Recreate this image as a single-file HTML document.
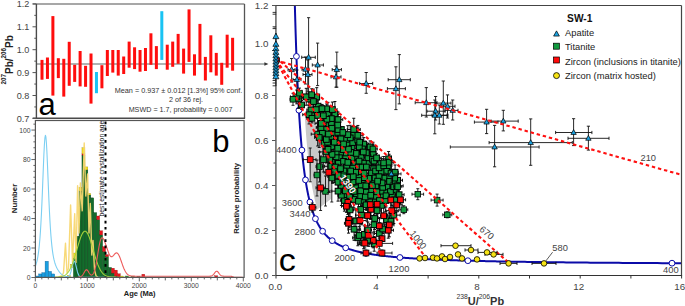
<!DOCTYPE html>
<html><head><meta charset="utf-8"><style>
html,body{margin:0;padding:0;background:#fff;width:685px;height:306px;overflow:hidden}
svg{display:block}
text{font-family:"Liberation Sans",sans-serif}
</style></head><body>
<svg width="685" height="306" viewBox="0 0 685 306">
<rect width="685" height="306" fill="#fff"/>
<line x1="36.4" y1="64.0" x2="266" y2="64.0" stroke="#959a9a" stroke-width="1.6"/>
<path d="M264.4,62.2 L268.4,64.0 L264.4,65.8 Z" fill="#333"/>
<rect x="40.5" y="59.9" width="3" height="19.8" fill="#ff0d0d"/>
<rect x="45.95" y="57.5" width="3" height="21.4" fill="#ff0d0d"/>
<rect x="51.39" y="16.1" width="3" height="79.5" fill="#ff0d0d"/>
<rect x="56.84" y="58.2" width="3" height="19.9" fill="#ff0d0d"/>
<rect x="62.28" y="58.8" width="3" height="37.8" fill="#ff0d0d"/>
<rect x="67.73" y="41.8" width="3" height="44" fill="#ff0d0d"/>
<rect x="73.18" y="64.8" width="3" height="17.1" fill="#ff0d0d"/>
<rect x="78.62" y="51" width="3" height="35.4" fill="#ff0d0d"/>
<rect x="84.07" y="65.8" width="3" height="21" fill="#ff0d0d"/>
<rect x="89.51" y="53.5" width="3" height="50.1" fill="#ff0d0d"/>
<rect x="94.96" y="72" width="3" height="21.2" fill="#19c3f3"/>
<rect x="100.41" y="65.2" width="3" height="23.1" fill="#ff0d0d"/>
<rect x="105.85" y="50" width="3" height="26" fill="#ff0d0d"/>
<rect x="111.3" y="50" width="3" height="22.6" fill="#ff0d0d"/>
<rect x="116.74" y="50" width="3" height="25.6" fill="#ff0d0d"/>
<rect x="122.19" y="56.5" width="3" height="17.5" fill="#ff0d0d"/>
<rect x="127.64" y="41.6" width="3" height="26.1" fill="#ff0d0d"/>
<rect x="133.08" y="47.3" width="3" height="21.8" fill="#ff0d0d"/>
<rect x="138.53" y="50" width="3" height="21.7" fill="#ff0d0d"/>
<rect x="143.97" y="48" width="3" height="23" fill="#ff0d0d"/>
<rect x="149.42" y="33.3" width="3" height="31.5" fill="#ff0d0d"/>
<rect x="154.87" y="46.1" width="3" height="23" fill="#ff0d0d"/>
<rect x="160.31" y="11.2" width="3" height="48.7" fill="#19c3f3"/>
<rect x="165.76" y="44.7" width="3" height="25" fill="#ff0d0d"/>
<rect x="171.2" y="41.6" width="3" height="25.2" fill="#ff0d0d"/>
<rect x="176.65" y="33.9" width="3" height="29.9" fill="#ff0d0d"/>
<rect x="182.1" y="48.6" width="3" height="25" fill="#ff0d0d"/>
<rect x="187.54" y="9.4" width="3" height="52.5" fill="#ff0d0d"/>
<rect x="192.99" y="54.3" width="3" height="21.3" fill="#ff0d0d"/>
<rect x="198.43" y="23.9" width="3" height="40.9" fill="#ff0d0d"/>
<rect x="203.88" y="56.9" width="3" height="23.6" fill="#ff0d0d"/>
<rect x="209.33" y="35.3" width="3" height="37" fill="#ff0d0d"/>
<rect x="214.77" y="52.9" width="3" height="22.7" fill="#ff0d0d"/>
<rect x="220.22" y="62.8" width="3" height="22" fill="#ff0d0d"/>
<rect x="225.66" y="34.7" width="3" height="33" fill="#ff0d0d"/>
<rect x="231.11" y="37.8" width="3" height="32.9" fill="#ff0d0d"/>
<line x1="32.7" y1="4.0" x2="244.5" y2="4.0" stroke="#8a8a8a" stroke-width="1.5"/>
<line x1="36.4" y1="4.0" x2="36.4" y2="118.2" stroke="#4a4a4a" stroke-width="1.4"/>
<line x1="244.5" y1="4.0" x2="244.5" y2="118.2" stroke="#555" stroke-width="1.3"/>
<line x1="32.7" y1="118.2" x2="245.1" y2="118.2" stroke="#4a4a4a" stroke-width="1.4"/>
<line x1="32.5" y1="3.9" x2="36.4" y2="3.9" stroke="#555" stroke-width="1" />
<text x="29.3" y="7.15" font-size="9.1" text-anchor="end" font-weight="normal" fill="#444" >1.2</text>
<line x1="32.5" y1="26.8" x2="36.4" y2="26.8" stroke="#555" stroke-width="1" />
<text x="29.3" y="30.05" font-size="9.1" text-anchor="end" font-weight="normal" fill="#444" >1.1</text>
<line x1="32.5" y1="49.7" x2="36.4" y2="49.7" stroke="#555" stroke-width="1" />
<text x="29.3" y="52.95" font-size="9.1" text-anchor="end" font-weight="normal" fill="#444" >1.0</text>
<line x1="32.5" y1="72.6" x2="36.4" y2="72.6" stroke="#555" stroke-width="1" />
<text x="29.3" y="75.85" font-size="9.1" text-anchor="end" font-weight="normal" fill="#444" >0.9</text>
<line x1="32.5" y1="95.5" x2="36.4" y2="95.5" stroke="#555" stroke-width="1" />
<text x="29.3" y="98.75" font-size="9.1" text-anchor="end" font-weight="normal" fill="#444" >0.8</text>
<line x1="32.5" y1="118.4" x2="36.4" y2="118.4" stroke="#555" stroke-width="1" />
<text x="29.3" y="121.65" font-size="9.1" text-anchor="end" font-weight="normal" fill="#444" >0.7</text>
<line x1="34.3" y1="15.35" x2="36.4" y2="15.35" stroke="#555" stroke-width="1" />
<line x1="34.3" y1="38.25" x2="36.4" y2="38.25" stroke="#555" stroke-width="1" />
<line x1="34.3" y1="61.15" x2="36.4" y2="61.15" stroke="#555" stroke-width="1" />
<line x1="34.3" y1="84.05" x2="36.4" y2="84.05" stroke="#555" stroke-width="1" />
<line x1="34.3" y1="106.95" x2="36.4" y2="106.95" stroke="#555" stroke-width="1" />
<text transform="translate(12.9,59.8) rotate(-90)" text-anchor="middle" font-size="10" font-weight="bold" fill="#222"><tspan font-size="6.3" dy="-6.5">207</tspan><tspan dy="6.5">Pb/</tspan><tspan font-size="6.3" dy="-6.5">206</tspan><tspan dy="6.5">Pb</tspan></text>
<text x="242.3" y="92.8" font-size="7.25" text-anchor="end" font-weight="normal" fill="#333" >Mean = 0.937 ± 0.012 [1.3%] 95% conf.</text>
<text x="186" y="102" font-size="7.2" text-anchor="middle" font-weight="normal" fill="#333" >2 of 36 rej.</text>
<text x="232.5" y="111.6" font-size="7.2" text-anchor="end" font-weight="normal" fill="#333" >MSWD = 1.7, probability = 0.007</text>
<text x="38.6" y="114.6" font-size="31" text-anchor="start" font-weight="normal" fill="#000" >a</text>
<rect x="35.5" y="276.03" width="3.2" height="1.47" fill="#1a9fe0" stroke="#0b5f9a" stroke-width="0.4"/>
<rect x="38.7" y="273.96" width="3.2" height="3.54" fill="#1a9fe0" stroke="#0b5f9a" stroke-width="0.4"/>
<rect x="41.9" y="272.78" width="3.2" height="4.72" fill="#1a9fe0" stroke="#0b5f9a" stroke-width="0.4"/>
<rect x="45.1" y="261.28" width="3.2" height="16.22" fill="#1a9fe0" stroke="#0b5f9a" stroke-width="0.4"/>
<rect x="48.3" y="271.45" width="3.2" height="6.05" fill="#1a9fe0" stroke="#0b5f9a" stroke-width="0.4"/>
<rect x="51.5" y="273.96" width="3.2" height="3.54" fill="#1a9fe0" stroke="#0b5f9a" stroke-width="0.4"/>
<rect x="67.4" y="275.29" width="2.95" height="2.21" fill="#f4e21a" stroke="#8a7a10" stroke-width="0.3"/>
<rect x="70.45" y="264.23" width="2.95" height="3.39" fill="#f4e21a" stroke="#8a7a10" stroke-width="0.3"/>
<rect x="73.4" y="258.33" width="2.95" height="19.17" fill="#146c2c" stroke="#0a3f18" stroke-width="0.35"/>
<rect x="73.4" y="253.02" width="2.95" height="5.31" fill="#f4e21a" stroke="#8a7a10" stroke-width="0.3"/>
<rect x="76.05" y="236.21" width="2.95" height="41.29" fill="#146c2c" stroke="#0a3f18" stroke-width="0.35"/>
<rect x="79" y="190.95" width="2.95" height="86.55" fill="#146c2c" stroke="#0a3f18" stroke-width="0.35"/>
<rect x="79" y="187.41" width="2.95" height="3.54" fill="#f4e21a" stroke="#8a7a10" stroke-width="0.3"/>
<rect x="81.95" y="155.12" width="2.95" height="122.38" fill="#146c2c" stroke="#0a3f18" stroke-width="0.35"/>
<rect x="81.95" y="153.64" width="2.95" height="1.47" fill="#e8141c" stroke="#8a0a0a" stroke-width="0.3"/>
<rect x="81.95" y="147.74" width="2.95" height="5.9" fill="#f4e21a" stroke="#8a7a10" stroke-width="0.3"/>
<rect x="84.9" y="169.86" width="2.95" height="107.64" fill="#146c2c" stroke="#0a3f18" stroke-width="0.35"/>
<rect x="84.9" y="166.91" width="2.95" height="2.95" fill="#f4e21a" stroke="#8a7a10" stroke-width="0.3"/>
<rect x="87.85" y="194.93" width="2.95" height="82.57" fill="#146c2c" stroke="#0a3f18" stroke-width="0.35"/>
<rect x="87.85" y="193.45" width="2.95" height="1.47" fill="#f4e21a" stroke="#8a7a10" stroke-width="0.3"/>
<rect x="90.8" y="197.88" width="2.95" height="79.62" fill="#146c2c" stroke="#0a3f18" stroke-width="0.35"/>
<rect x="93.75" y="212.62" width="2.95" height="64.88" fill="#146c2c" stroke="#0a3f18" stroke-width="0.35"/>
<rect x="96.7" y="219.7" width="2.95" height="57.8" fill="#146c2c" stroke="#0a3f18" stroke-width="0.35"/>
<rect x="96.7" y="216.01" width="2.95" height="3.69" fill="#e8141c" stroke="#8a0a0a" stroke-width="0.3"/>
<rect x="99.65" y="234.89" width="2.95" height="42.61" fill="#146c2c" stroke="#0a3f18" stroke-width="0.35"/>
<rect x="99.65" y="230.76" width="2.95" height="4.13" fill="#e8141c" stroke="#8a0a0a" stroke-width="0.3"/>
<rect x="102.6" y="251.55" width="2.95" height="25.95" fill="#146c2c" stroke="#0a3f18" stroke-width="0.35"/>
<rect x="102.6" y="246.68" width="2.95" height="4.87" fill="#e8141c" stroke="#8a0a0a" stroke-width="0.3"/>
<rect x="105.55" y="256.56" width="2.95" height="20.94" fill="#146c2c" stroke="#0a3f18" stroke-width="0.35"/>
<rect x="105.55" y="254.65" width="2.95" height="1.92" fill="#e8141c" stroke="#8a0a0a" stroke-width="0.3"/>
<rect x="108.5" y="267.47" width="2.95" height="10.03" fill="#146c2c" stroke="#0a3f18" stroke-width="0.35"/>
<rect x="111.45" y="273.08" width="2.95" height="4.42" fill="#146c2c" stroke="#0a3f18" stroke-width="0.35"/>
<rect x="111.45" y="268.21" width="2.95" height="4.87" fill="#e8141c" stroke="#8a0a0a" stroke-width="0.3"/>
<rect x="114.4" y="276.03" width="2.95" height="1.47" fill="#146c2c" stroke="#0a3f18" stroke-width="0.35"/>
<rect x="114.4" y="270.13" width="2.95" height="5.9" fill="#e8141c" stroke="#8a0a0a" stroke-width="0.3"/>
<rect x="117.35" y="273.81" width="2.95" height="3.69" fill="#e8141c" stroke="#8a0a0a" stroke-width="0.3"/>
<rect x="120.3" y="276.03" width="2.95" height="1.47" fill="#f4e21a" stroke="#8a7a10" stroke-width="0.3"/>
<rect x="125.4" y="276.03" width="2.95" height="1.47" fill="#146c2c" stroke="#0a3f18" stroke-width="0.35"/>
<rect x="131.2" y="276.32" width="2.95" height="1.18" fill="#146c2c" stroke="#0a3f18" stroke-width="0.35"/>
<rect x="137" y="276.32" width="2.95" height="1.18" fill="#146c2c" stroke="#0a3f18" stroke-width="0.35"/>
<rect x="141.9" y="274.26" width="2.95" height="3.24" fill="#e8141c" stroke="#8a0a0a" stroke-width="0.3"/>
<rect x="214.7" y="275.73" width="2.95" height="1.77" fill="#e8141c" stroke="#8a0a0a" stroke-width="0.3"/>
<path d="M58,277.2 L62,275.73 L63.5,272.78 L65.5,243.29 L67,272.78 L68.5,268.35 L70.6,204.95 L72.5,262.45 L74.7,213.8 L76,262.45 L77.6,185.78 L79,232.96 L80.4,182.83 L82.2,210.85 L84.2,143.02 L85.8,196.1 L87.6,173.99 L89,232.96 L90.3,203.47 L91.8,255.08 L93,240.34 L94.5,269.83 L96,275.73 L98,277.2" fill="none" stroke="#f8d770" stroke-width="1.4" stroke-opacity="0.95" stroke-linejoin="round"/>
<path d="M35.4,266.18 L35.9,264.81 L36.4,263.21 L36.9,261.33 L37.4,259.08 L37.9,256.37 L38.4,253.11 L38.9,249.16 L39.4,244.41 L39.9,238.7 L40.4,231.89 L40.9,223.82 L41.4,214.39 L41.9,203.6 L42.4,191.61 L42.9,178.84 L43.4,166.03 L43.9,154.18 L44.4,144.42 L44.9,137.85 L45.4,135.27 L45.9,136.98 L46.4,142.72 L46.9,151.75 L47.4,163 L47.9,175.35 L48.4,187.81 L48.9,199.65 L49.4,210.42 L49.9,219.93 L50.4,228.17 L50.9,235.2 L51.4,241.16 L51.9,246.16 L52.4,250.35 L52.9,253.85 L53.4,256.76 L53.9,259.19 L54.4,261.23 L54.9,262.97 L55.4,264.47 L55.9,265.77 L56.4,266.93 L56.9,267.98 L57.4,268.92 L57.9,269.79 L58.4,270.58 L58.9,271.31 L59.4,271.97 L59.9,272.58 L60.4,273.14 L60.9,273.64 L61.4,274.1 L61.9,274.5 L62.4,274.87 L62.9,275.19 L63.4,275.48 L63.9,275.73 L64.4,275.95 L64.9,276.14 L65.4,276.31 L65.9,276.44 L66.4,276.55 L66.9,276.62 L67.4,276.64 L67.9,276.58 L68.4,276.42 L68.9,276.09 L69.4,275.53 L69.9,274.68 L70.4,273.48 L70.9,271.91 L71.4,270 L71.9,267.87 L72.4,265.7 L72.9,263.72 L73.4,262.19 L73.9,261.32 L74.4,261.25 L74.9,261.98 L75.4,263.4 L75.9,265.32 L76.4,267.49 L76.9,269.66 L77.4,271.64 L77.9,273.31 L78.4,274.61 L78.9,275.57 L79.4,276.22 L79.9,276.64 L80.4,276.9 L80.9,277.04 L81.4,277.12 L81.9,277.16 L82.4,277.18 L82.9,277.19 L83.4,277.2 L83.9,277.2 L84.4,277.2 L84.9,277.2 L85.4,277.2 L85.9,277.2 L86.4,277.2 L86.9,277.2 L87.4,277.2 L87.9,277.2 L88.4,277.2 L88.9,277.2 L89.4,277.2 L89.9,277.2 L90.4,277.2 L90.9,277.2 L91.4,277.2 L91.9,277.2 L92.4,277.2 L92.9,277.2 L93.4,277.2 L93.9,277.2 L94.4,277.2 L94.9,277.2 L95.4,277.2 L95.9,277.2 L96.4,277.2 L96.9,277.2 L97.4,277.2 L97.9,277.2 L98.4,277.2 L98.9,277.2 L99.4,277.2 L99.9,277.2 L100.4,277.2 L100.9,277.2 L101.4,277.2 L101.9,277.2 L102.4,277.2 L102.9,277.2 L103.4,277.2 L103.9,277.2 L104.4,277.2 L104.9,277.2 L105.4,277.2 L105.9,277.2 L106.4,277.2 L106.9,277.2 L107.4,277.2 L107.9,277.2 L108.4,277.2 L108.9,277.2 L109.4,277.2 L109.9,277.2 L110.4,277.2 L110.9,277.2 L111.4,277.2 L111.9,277.2 L112.4,277.2 L112.9,277.2 L113.4,277.2 L113.9,277.2 L114.4,277.2 L114.9,277.2 L115.4,277.2" fill="none" stroke="#7ccff2" stroke-width="1.1" stroke-opacity="1" stroke-linejoin="round"/>
<path d="M55,277.16 L55.5,277.15 L56,277.14 L56.5,277.12 L57,277.1 L57.5,277.08 L58,277.05 L58.5,277.01 L59,276.97 L59.5,276.91 L60,276.85 L60.5,276.78 L61,276.69 L61.5,276.58 L62,276.46 L62.5,276.32 L63,276.15 L63.5,275.96 L64,275.73 L64.5,275.47 L65,275.18 L65.5,274.84 L66,274.46 L66.5,274.03 L67,273.54 L67.5,273 L68,272.39 L68.5,271.72 L69,270.97 L69.5,270.16 L70,269.27 L70.5,268.3 L71,267.25 L71.5,266.12 L72,264.92 L72.5,263.63 L73,262.27 L73.5,260.83 L74,259.33 L74.5,257.76 L75,256.14 L75.5,254.47 L76,252.77 L76.5,251.04 L77,249.3 L77.5,247.56 L78,245.83 L78.5,244.13 L79,242.48 L79.5,240.88 L80,239.36 L80.5,237.93 L81,236.61 L81.5,235.4 L82,234.32 L82.5,233.39 L83,232.62 L83.5,232 L84,231.56 L84.5,231.29 L85,231.2 L85.5,231.29 L86,231.56 L86.5,232 L87,232.62 L87.5,233.39 L88,234.32 L88.5,235.4 L89,236.61 L89.5,237.93 L90,239.36 L90.5,240.88 L91,242.48 L91.5,244.13 L92,245.83 L92.5,247.56 L93,249.3 L93.5,251.04 L94,252.77 L94.5,254.47 L95,256.14 L95.5,257.76 L96,259.33 L96.5,260.83 L97,262.27 L97.5,263.63 L98,264.92 L98.5,266.12 L99,267.25 L99.5,268.3 L100,269.27 L100.5,270.16 L101,270.97 L101.5,271.72 L102,272.39 L102.5,273 L103,273.54 L103.5,274.03 L104,274.46 L104.5,274.84 L105,275.18 L105.5,275.47 L106,275.73 L106.5,275.96 L107,276.15 L107.5,276.32 L108,276.46 L108.5,276.58 L109,276.69 L109.5,276.78 L110,276.85 L110.5,276.91 L111,276.97 L111.5,277.01 L112,277.05 L112.5,277.08 L113,277.1 L113.5,277.12 L114,277.14 L114.5,277.15 L115,277.16 L115.5,277.17 L116,277.17 L116.5,277.18 L117,277.18 L117.5,277.19 L118,277.19 L118.5,277.19 L119,277.19 L119.5,277.2 L120,277.2 L120.5,277.2 L121,277.2 L121.5,277.2 L122,277.2 L122.5,277.2 L123,277.2 L123.5,277.2 L124,277.2 L124.5,277.2 L125,277.2 L125.5,277.2 L126,277.2 L126.5,277.2 L127,277.2 L127.5,277.2 L128,277.2 L128.5,277.2 L129,277.2 L129.5,277.2 L130,277.2 L130.5,277.2 L131,277.2 L131.5,277.2 L132,277.2 L132.5,277.2 L133,277.2 L133.5,277.2 L134,277.2 L134.5,277.2 L135,277.2" fill="none" stroke="#a6d23c" stroke-width="1.1" stroke-opacity="1" stroke-linejoin="round"/>
<path d="M78,277.2 L78.5,277.11 L79,277.01 L79.5,276.91 L80,276.78 L80.5,276.63 L81,276.41 L81.5,276.13 L82,275.73 L82.5,275.21 L83,274.53 L83.5,273.72 L84,272.79 L84.5,271.9 L85,271.05 L85.5,270.34 L86,269.86 L86.5,269.7 L87,269.86 L87.5,270.33 L88,271.03 L88.5,271.87 L89,272.74 L89.5,273.54 L90,274.21 L90.5,274.71 L91,275 L91.5,275.09 L92,274.97 L92.5,274.64 L93,274.08 L93.5,273.28 L94,272.19 L94.5,270.8 L95,269.07 L95.5,267 L96,264.6 L96.5,261.9 L97,258.95 L97.5,255.85 L98,252.69 L98.5,249.59 L99,246.68 L99.5,244.07 L100,241.84 L100.5,240.08 L101,238.81 L101.5,238.03 L102,237.72 L102.5,237.83 L103,238.29 L103.5,239.04 L104,240.02 L104.5,241.17 L105,242.44 L105.5,243.82 L106,245.26 L106.5,246.74 L107,248.23 L107.5,249.72 L108,251.15 L108.5,252.49 L109,253.71 L109.5,254.76 L110,255.6 L110.5,256.22 L111,256.6 L111.5,256.74 L112,256.66 L112.5,256.38 L113,255.96 L113.5,255.42 L114,254.83 L114.5,254.24 L115,253.71 L115.5,253.28 L116,252.99 L116.5,252.88 L117,252.97 L117.5,253.28 L118,253.8 L118.5,254.53 L119,255.45 L119.5,256.54 L120,257.77 L120.5,259.1 L121,260.51 L121.5,261.96 L122,263.41 L122.5,264.84 L123,266.21 L123.5,267.52 L124,268.73 L124.5,269.85 L125,270.85 L125.5,271.75 L126,272.54 L126.5,273.21 L127,273.79 L127.5,274.28 L128,274.69 L128.5,275.02 L129,275.29 L129.5,275.51 L130,275.68 L130.5,275.81 L131,275.91 L131.5,275.99 L132,276.05 L132.5,276.09 L133,276.12 L133.5,276.15 L134,276.16 L134.5,276.17 L135,276.18 L135.5,276.19 L136,276.19 L136.5,276.19 L137,276.2 L137.5,276.2 L138,276.2 L138.5,276.2 L139,276.2 L139.5,276.2 L140,276.2 L140.5,276.2 L141,276.2 L141.5,276.2 L142,276.2 L142.5,276.2 L143,276.2 L143.5,276.2 L144,276.2 L144.5,276.2 L145,276.2 L145.5,276.2 L146,276.2 L146.5,276.2 L147,276.2 L147.5,276.2 L148,276.2 L148.5,276.2 L149,276.2 L149.5,276.2 L150,276.2 L150.5,276.2 L151,276.2 L151.5,276.2 L152,276.2 L152.5,276.2 L153,276.2 L153.5,276.2 L154,276.2 L154.5,276.2 L155,276.2 L155.5,276.2 L156,276.2 L156.5,276.2 L157,276.2 L157.5,276.2 L158,276.2 L158.5,276.2 L159,276.2 L159.5,276.2 L160,276.2 L160.5,276.2 L161,276.2 L161.5,276.2 L162,276.2 L162.5,276.2 L163,276.2 L163.5,276.2 L164,276.2 L164.5,276.2 L165,276.2 L165.5,276.2 L166,276.2 L166.5,276.2 L167,276.2 L167.5,276.2 L168,276.2 L168.5,276.2 L169,276.2 L169.5,276.2 L170,276.2 L170.5,276.2 L171,276.2 L171.5,276.2 L172,276.2 L172.5,276.2 L173,276.2 L173.5,276.2 L174,276.2 L174.5,276.2 L175,276.2 L175.5,276.2 L176,276.2 L176.5,276.2 L177,276.2 L177.5,276.2 L178,276.2 L178.5,276.2 L179,276.2 L179.5,276.2 L180,276.2 L180.5,276.2 L181,276.2 L181.5,276.2 L182,276.2 L182.5,276.2 L183,276.2 L183.5,276.2 L184,276.2 L184.5,276.2 L185,276.2 L185.5,276.2 L186,276.2 L186.5,276.2 L187,276.2 L187.5,276.2 L188,276.2 L188.5,276.2 L189,276.2 L189.5,276.2 L190,276.2 L190.5,276.2 L191,276.2 L191.5,276.2 L192,276.2 L192.5,276.2 L193,276.2 L193.5,276.2 L194,276.2 L194.5,276.2 L195,276.2 L195.5,276.2 L196,276.2 L196.5,276.2 L197,276.2 L197.5,276.2 L198,276.2 L198.5,276.2 L199,276.2 L199.5,276.2 L200,276.2 L200.5,276.2 L201,276.2 L201.5,276.2 L202,276.2 L202.5,276.2 L203,276.2 L203.5,276.2 L204,276.2 L204.5,276.2 L205,276.2 L205.5,276.2 L206,276.2 L206.5,276.2 L207,276.2 L207.5,276.2 L208,276.2 L208.5,276.2 L209,276.19 L209.5,276.18 L210,276.15 L210.5,276.11 L211,276.03 L211.5,275.89 L212,275.69 L212.5,275.39 L213,274.98 L213.5,274.46 L214,273.85 L214.5,273.17 L215,272.49 L215.5,271.89 L216,271.45 L216.5,271.22 L217,271.25 L217.5,271.52 L218,272 L218.5,272.62 L219,273.31 L219.5,273.98 L220,274.58 L220.5,275.08 L221,275.46 L221.5,275.74 L222,275.93 L222.5,276.05 L223,276.12 L223.5,276.16 L224,276.18 L224.5,276.19 L225,276.2 L225.5,276.2 L226,276.2 L226.5,276.2 L227,276.2 L227.5,276.2 L228,276.2 L228.5,276.2 L229,276.2 L229.5,276.2 L230,276.2 L230.5,276.2 L231,276.2 L231.5,276.37 L232,276.53 L232.5,276.7 L233,276.87 L233.5,277.03 L234,277.2 L234.5,277.2 L235,277.2 L235.5,277.2 L236,277.2 L236.5,277.2 L237,277.2 L237.5,277.2 L238,277.2 L238.5,277.2 L239,277.2 L239.5,277.2 L240,277.2 L240.5,277.2 L241,277.2 L241.5,277.2 L242,277.2 L242.5,277.2" fill="none" stroke="#ee5a5a" stroke-width="1.1" stroke-opacity="1" stroke-linejoin="round"/>
<line x1="105.5" y1="121.5" x2="105.5" y2="277" stroke="#000" stroke-width="2.0" stroke-dasharray="2.7,3.5"/>
<text transform="translate(103.5,216.4) rotate(-90)" font-size="6.75" fill="#111">best estimate crystallization age</text>
<rect x="35.4" y="120.5" width="208.7" height="156.9" fill="none" stroke="#555" stroke-width="1.2"/>
<line x1="31.4" y1="277.5" x2="35.4" y2="277.5" stroke="#555" stroke-width="0.9" />
<text x="30.6" y="280.3" font-size="6.8" text-anchor="end" font-weight="normal" fill="#444" >0</text>
<line x1="33.4" y1="271.6" x2="35.4" y2="271.6" stroke="#555" stroke-width="0.9" />
<line x1="33.4" y1="265.7" x2="35.4" y2="265.7" stroke="#555" stroke-width="0.9" />
<line x1="33.4" y1="259.81" x2="35.4" y2="259.81" stroke="#555" stroke-width="0.9" />
<line x1="33.4" y1="253.91" x2="35.4" y2="253.91" stroke="#555" stroke-width="0.9" />
<line x1="31.4" y1="248.01" x2="35.4" y2="248.01" stroke="#555" stroke-width="0.9" />
<text x="30.6" y="250.81" font-size="6.8" text-anchor="end" font-weight="normal" fill="#444" >20</text>
<line x1="33.4" y1="242.11" x2="35.4" y2="242.11" stroke="#555" stroke-width="0.9" />
<line x1="33.4" y1="236.21" x2="35.4" y2="236.21" stroke="#555" stroke-width="0.9" />
<line x1="33.4" y1="230.32" x2="35.4" y2="230.32" stroke="#555" stroke-width="0.9" />
<line x1="33.4" y1="224.42" x2="35.4" y2="224.42" stroke="#555" stroke-width="0.9" />
<line x1="31.4" y1="218.52" x2="35.4" y2="218.52" stroke="#555" stroke-width="0.9" />
<text x="30.6" y="221.32" font-size="6.8" text-anchor="end" font-weight="normal" fill="#444" >40</text>
<line x1="33.4" y1="212.62" x2="35.4" y2="212.62" stroke="#555" stroke-width="0.9" />
<line x1="33.4" y1="206.72" x2="35.4" y2="206.72" stroke="#555" stroke-width="0.9" />
<line x1="33.4" y1="200.83" x2="35.4" y2="200.83" stroke="#555" stroke-width="0.9" />
<line x1="33.4" y1="194.93" x2="35.4" y2="194.93" stroke="#555" stroke-width="0.9" />
<line x1="31.4" y1="189.03" x2="35.4" y2="189.03" stroke="#555" stroke-width="0.9" />
<text x="30.6" y="191.83" font-size="6.8" text-anchor="end" font-weight="normal" fill="#444" >60</text>
<line x1="33.4" y1="183.13" x2="35.4" y2="183.13" stroke="#555" stroke-width="0.9" />
<line x1="33.4" y1="177.23" x2="35.4" y2="177.23" stroke="#555" stroke-width="0.9" />
<line x1="33.4" y1="171.34" x2="35.4" y2="171.34" stroke="#555" stroke-width="0.9" />
<line x1="33.4" y1="165.44" x2="35.4" y2="165.44" stroke="#555" stroke-width="0.9" />
<line x1="31.4" y1="159.54" x2="35.4" y2="159.54" stroke="#555" stroke-width="0.9" />
<text x="30.6" y="162.34" font-size="6.8" text-anchor="end" font-weight="normal" fill="#444" >80</text>
<line x1="33.4" y1="153.64" x2="35.4" y2="153.64" stroke="#555" stroke-width="0.9" />
<line x1="33.4" y1="147.74" x2="35.4" y2="147.74" stroke="#555" stroke-width="0.9" />
<line x1="33.4" y1="141.85" x2="35.4" y2="141.85" stroke="#555" stroke-width="0.9" />
<line x1="33.4" y1="135.95" x2="35.4" y2="135.95" stroke="#555" stroke-width="0.9" />
<line x1="31.4" y1="130.05" x2="35.4" y2="130.05" stroke="#555" stroke-width="0.9" />
<text x="30.6" y="132.85" font-size="6.8" text-anchor="end" font-weight="normal" fill="#444" >100</text>
<line x1="33.4" y1="124.15" x2="35.4" y2="124.15" stroke="#555" stroke-width="0.9" />
<line x1="35.3" y1="277.4" x2="35.3" y2="281.4" stroke="#555" stroke-width="0.9" />
<line x1="41.8" y1="277.4" x2="41.8" y2="279.4" stroke="#555" stroke-width="0.9" />
<line x1="48.3" y1="277.4" x2="48.3" y2="279.4" stroke="#555" stroke-width="0.9" />
<line x1="54.8" y1="277.4" x2="54.8" y2="279.4" stroke="#555" stroke-width="0.9" />
<line x1="61.3" y1="277.4" x2="61.3" y2="280.4" stroke="#555" stroke-width="0.9" />
<line x1="67.8" y1="277.4" x2="67.8" y2="279.4" stroke="#555" stroke-width="0.9" />
<line x1="74.3" y1="277.4" x2="74.3" y2="279.4" stroke="#555" stroke-width="0.9" />
<line x1="80.8" y1="277.4" x2="80.8" y2="279.4" stroke="#555" stroke-width="0.9" />
<line x1="87.3" y1="277.4" x2="87.3" y2="281.4" stroke="#555" stroke-width="0.9" />
<line x1="93.8" y1="277.4" x2="93.8" y2="279.4" stroke="#555" stroke-width="0.9" />
<line x1="100.3" y1="277.4" x2="100.3" y2="279.4" stroke="#555" stroke-width="0.9" />
<line x1="106.8" y1="277.4" x2="106.8" y2="279.4" stroke="#555" stroke-width="0.9" />
<line x1="113.3" y1="277.4" x2="113.3" y2="280.4" stroke="#555" stroke-width="0.9" />
<line x1="119.8" y1="277.4" x2="119.8" y2="279.4" stroke="#555" stroke-width="0.9" />
<line x1="126.3" y1="277.4" x2="126.3" y2="279.4" stroke="#555" stroke-width="0.9" />
<line x1="132.8" y1="277.4" x2="132.8" y2="279.4" stroke="#555" stroke-width="0.9" />
<line x1="139.3" y1="277.4" x2="139.3" y2="281.4" stroke="#555" stroke-width="0.9" />
<line x1="145.8" y1="277.4" x2="145.8" y2="279.4" stroke="#555" stroke-width="0.9" />
<line x1="152.3" y1="277.4" x2="152.3" y2="279.4" stroke="#555" stroke-width="0.9" />
<line x1="158.8" y1="277.4" x2="158.8" y2="279.4" stroke="#555" stroke-width="0.9" />
<line x1="165.3" y1="277.4" x2="165.3" y2="280.4" stroke="#555" stroke-width="0.9" />
<line x1="171.8" y1="277.4" x2="171.8" y2="279.4" stroke="#555" stroke-width="0.9" />
<line x1="178.3" y1="277.4" x2="178.3" y2="279.4" stroke="#555" stroke-width="0.9" />
<line x1="184.8" y1="277.4" x2="184.8" y2="279.4" stroke="#555" stroke-width="0.9" />
<line x1="191.3" y1="277.4" x2="191.3" y2="281.4" stroke="#555" stroke-width="0.9" />
<line x1="197.8" y1="277.4" x2="197.8" y2="279.4" stroke="#555" stroke-width="0.9" />
<line x1="204.3" y1="277.4" x2="204.3" y2="279.4" stroke="#555" stroke-width="0.9" />
<line x1="210.8" y1="277.4" x2="210.8" y2="279.4" stroke="#555" stroke-width="0.9" />
<line x1="217.3" y1="277.4" x2="217.3" y2="280.4" stroke="#555" stroke-width="0.9" />
<line x1="223.8" y1="277.4" x2="223.8" y2="279.4" stroke="#555" stroke-width="0.9" />
<line x1="230.3" y1="277.4" x2="230.3" y2="279.4" stroke="#555" stroke-width="0.9" />
<line x1="236.8" y1="277.4" x2="236.8" y2="279.4" stroke="#555" stroke-width="0.9" />
<line x1="243.3" y1="277.4" x2="243.3" y2="281.4" stroke="#555" stroke-width="0.9" />
<text x="35.3" y="288.3" font-size="6.75" text-anchor="middle" font-weight="normal" fill="#444" >0</text>
<text x="87.3" y="288.3" font-size="6.75" text-anchor="middle" font-weight="normal" fill="#444" >1000</text>
<text x="139.3" y="288.3" font-size="6.75" text-anchor="middle" font-weight="normal" fill="#444" >2000</text>
<text x="191.3" y="288.3" font-size="6.75" text-anchor="middle" font-weight="normal" fill="#444" >3000</text>
<text x="243.3" y="288.3" font-size="6.75" text-anchor="middle" font-weight="normal" fill="#444" >4000</text>
<text x="139.6" y="296.2" font-size="7.5" text-anchor="middle" font-weight="bold" fill="#222" >Age (Ma)</text>
<text transform="translate(16.9,198.5) rotate(-90)" text-anchor="middle" font-size="7.8" font-weight="bold" fill="#222">Number</text>
<text transform="translate(239.4,198.4) rotate(-90)" text-anchor="middle" font-size="7.7" font-weight="bold" fill="#222">Relative probability</text>
<text x="212.3" y="151.5" font-size="31" text-anchor="start" font-weight="normal" fill="#000" >b</text>
<defs><clipPath id="cc"><rect x="275.7" y="5.5" width="405.8" height="270"/></clipPath></defs>
<g clip-path="url(#cc)">
<path d="M304.56,112.5 L304.7,114.76 L304.84,116.98 L304.98,119.17 L305.12,121.33 L305.26,123.46 L305.41,125.55 L305.55,127.62 L305.7,129.65 L305.85,131.65 L305.99,133.63 L306.14,135.57 L306.3,137.49 L306.45,139.38 L306.6,141.24 L306.76,143.07 L306.92,144.88 L307.07,146.66 L307.23,148.42 L307.4,150.14 L307.56,151.85 L307.72,153.53 L307.89,155.18 L308.06,156.81 L308.23,158.41 L308.4,160 L308.57,161.56 L308.75,163.09 L308.92,164.61 L309.1,166.1 L309.28,167.57 L309.46,169.02 L309.65,170.44 L309.83,171.85 L310.02,173.24 L310.21,174.6 L310.4,175.95 L310.59,177.28 L310.78,178.58 L310.98,179.87 L311.18,181.14 L311.38,182.39 L311.58,183.63 L311.79,184.84 L312,186.04 L312.21,187.22 L312.42,188.39 L312.63,189.53 L312.85,190.66 L313.07,191.78 L313.29,192.87 L313.51,193.96 L313.74,195.02 L313.97,196.07 L314.2,197.11 L314.43,198.13 L314.67,199.14 L314.91,200.13 L315.15,201.11 L315.39,202.07 L315.64,203.02 L315.89,203.96 L316.14,204.88 L316.4,205.79 L316.66,206.69 L314,212 L331,199 L331,185 L329,165 L325,145 L318,125 L308,112 Z" fill="#c9c9c9"/>
<path d="M294.32,-16.28 L294.37,-14.18 L294.42,-12.1 L294.47,-10.04 L294.52,-7.99 L294.57,-5.95 L294.62,-3.93 L294.67,-1.93 L294.72,0.06 L294.77,2.04 L294.82,4 L294.87,5.94 L294.92,7.87 L294.97,9.79 L295.02,11.69 L295.07,13.57 L295.13,15.45 L295.18,17.31 L295.23,19.15 L295.28,20.98 L295.34,22.8 L295.39,24.6 L295.44,26.39 L295.5,28.17 L295.55,29.93 L295.6,31.68 L295.66,33.42 L295.71,35.14 L295.77,36.85 L295.82,38.55 L295.88,40.23 L295.93,41.9 L295.99,43.56 L296.04,45.21 L296.1,46.85 L296.15,48.47 L296.21,50.08 L296.27,51.68 L296.32,53.26 L296.38,54.84 L296.44,56.4 L296.49,57.95 L296.55,59.49 L296.61,61.02 L296.67,62.54 L296.73,64.04 L296.78,65.53 L296.84,67.02 L296.9,68.49 L296.96,69.95 L297.02,71.4 L297.08,72.84 L297.14,74.27 L297.2,75.68 L297.26,77.09 L297.32,78.49 L297.38,79.87 L297.45,81.25 L297.51,82.61 L297.57,83.97 L297.63,85.31 L297.69,86.65 L297.76,87.97 L297.82,89.29 L297.88,90.59 L297.94,91.89 L298.01,93.18 L298.07,94.45 L298.14,95.72 L298.2,96.98 L298.27,98.22 L298.33,99.46 L298.4,100.69 L298.46,101.91 L298.53,103.13 L298.59,104.33 L298.66,105.52 L298.73,106.71 L298.79,107.88 L298.86,109.05 L298.93,110.21 L299,111.36 L299.06,112.5 L299.13,113.63 L299.2,114.76 L299.27,115.87 L299.34,116.98 L299.41,118.08 L299.48,119.17 L299.55,120.25 L299.62,121.33 L299.69,122.4 L299.76,123.46 L299.83,124.51 L299.91,125.55 L299.98,126.59 L300.05,127.62 L300.12,128.64 L300.2,129.65 L300.27,130.66 L300.35,131.65 L300.42,132.64 L300.49,133.63 L300.57,134.6 L300.64,135.57 L300.72,136.54 L300.8,137.49 L300.87,138.44 L300.95,139.38 L301.03,140.31 L301.1,141.24 L301.18,142.16 L301.26,143.07 L301.34,143.98 L301.42,144.88 L301.49,145.77 L301.57,146.66 L301.65,147.54 L301.73,148.42 L301.81,149.28 L301.9,150.14 L301.98,151 L302.06,151.85 L302.14,152.69 L302.22,153.53 L302.31,154.36 L302.39,155.18 L302.47,156 L302.56,156.81 L302.64,157.61 L302.73,158.41 L302.81,159.21 L302.9,160 L302.99,160.78 L303.07,161.56 L303.16,162.33 L303.25,163.09 L303.33,163.85 L303.42,164.61 L303.51,165.35 L303.6,166.1 L303.69,166.84 L303.78,167.57 L303.87,168.3 L303.96,169.02 L304.05,169.73 L304.15,170.44 L304.24,171.15 L304.33,171.85 L304.42,172.55 L304.52,173.24 L304.61,173.92 L304.71,174.6 L304.8,175.28 L304.9,175.95 L304.99,176.62 L305.09,177.28 L305.19,177.93 L305.28,178.58 L305.38,179.23 L305.48,179.87 L305.58,180.51 L305.68,181.14 L305.78,181.77 L305.88,182.39 L305.98,183.01 L306.08,183.63 L306.19,184.24 L306.29,184.84 L306.39,185.44 L306.5,186.04 L306.6,186.63 L306.71,187.22 L306.81,187.81 L306.92,188.39 L307.03,188.96 L307.13,189.53 L307.24,190.1 L307.35,190.66 L307.46,191.22 L307.57,191.78 L307.68,192.33 L307.79,192.87 L307.9,193.42 L308.01,193.96 L308.12,194.49 L308.24,195.02 L308.35,195.55 L308.47,196.07 L308.58,196.59 L308.7,197.11 L308.81,197.62 L308.93,198.13 L309.05,198.64 L309.17,199.14 L309.29,199.64 L309.41,200.13 L309.53,200.62 L309.65,201.11 L309.77,201.59 L309.89,202.07 L310.02,202.55 L310.14,203.02 L310.26,203.49 L310.39,203.96 L310.52,204.42 L310.64,204.88 L310.77,205.34 L310.9,205.79 L311.03,206.24 L311.16,206.69 L311.29,207.13 L311.42,207.57 L311.55,208.01 L311.68,208.44 L311.82,208.87 L311.95,209.3 L312.09,209.73 L312.22,210.15 L312.36,210.57 L312.5,210.98 L312.64,211.4 L312.78,211.81 L312.92,212.21 L313.06,212.62 L313.2,213.02 L313.34,213.42 L313.49,213.81 L313.63,214.21 L313.78,214.6 L313.92,214.98 L314.07,215.37 L314.22,215.75 L314.37,216.13 L314.52,216.5 L314.67,216.88 L314.82,217.25 L314.97,217.62 L315.13,217.98 L315.28,218.35 L315.44,218.71 L315.59,219.06 L315.75,219.42 L315.91,219.77 L316.07,220.12 L316.23,220.47 L316.39,220.82 L316.56,221.16 L316.72,221.5 L316.89,221.84 L317.05,222.17 L317.22,222.51 L317.39,222.84 L317.56,223.17 L317.73,223.49 L317.9,223.82 L318.07,224.14 L318.25,224.46 L318.42,224.77 L318.6,225.09 L318.78,225.4 L318.96,225.71 L319.14,226.02 L319.32,226.33 L319.5,226.63 L319.68,226.93 L319.87,227.23 L320.06,227.53 L320.24,227.83 L320.43,228.12 L320.62,228.41 L320.81,228.7 L321.01,228.99 L321.2,229.27 L321.4,229.56 L321.6,229.84 L321.79,230.12 L321.99,230.39 L322.2,230.67 L322.4,230.94 L322.6,231.22 L322.81,231.49 L323.02,231.75 L323.23,232.02 L323.44,232.28 L323.65,232.55 L323.86,232.81 L324.08,233.06 L324.29,233.32 L324.51,233.58 L324.73,233.83 L324.95,234.08 L325.18,234.33 L325.4,234.58 L325.63,234.83 L325.86,235.07 L326.09,235.31 L326.32,235.55 L326.55,235.79 L326.79,236.03 L327.03,236.27 L327.27,236.5 L327.51,236.74 L327.75,236.97 L328,237.2 L328.24,237.42 L328.49,237.65 L328.74,237.88 L329,238.1 L329.25,238.32 L329.51,238.54 L329.77,238.76 L330.03,238.98 L330.29,239.19 L330.56,239.41 L330.83,239.62 L331.1,239.83 L331.37,240.04 L331.64,240.25 L331.92,240.46 L332.2,240.66 L332.48,240.87 L332.77,241.07 L333.05,241.27 L333.34,241.47 L333.63,241.67 L333.93,241.87 L334.22,242.06 L334.52,242.26 L334.82,242.45 L335.13,242.64 L335.43,242.83 L335.74,243.02 L336.06,243.21 L336.37,243.4 L336.69,243.58 L337.01,243.77 L337.34,243.95 L337.66,244.13 L337.99,244.31 L338.32,244.49 L338.66,244.67 L339,244.84 L339.34,245.02 L339.69,245.19 L340.04,245.37 L340.39,245.54 L340.74,245.71 L341.1,245.88 L341.46,246.05 L341.83,246.22 L342.2,246.38 L342.57,246.55 L342.95,246.71 L343.33,246.87 L343.71,247.04 L344.1,247.2 L344.49,247.36 L344.89,247.51 L345.28,247.67 L345.69,247.83 L346.09,247.98 L346.51,248.14 L346.92,248.29 L347.34,248.44 L347.77,248.59 L348.2,248.74 L348.63,248.89 L349.07,249.04 L349.51,249.19 L349.96,249.33 L350.41,249.48 L350.86,249.62 L351.33,249.77 L351.79,249.91 L352.26,250.05 L352.74,250.19 L353.22,250.33 L353.71,250.47 L354.2,250.61 L354.7,250.74 L355.21,250.88 L355.71,251.01 L356.23,251.15 L356.75,251.28 L357.28,251.41 L357.81,251.54 L358.35,251.67 L358.9,251.8 L359.45,251.93 L360.01,252.06 L360.57,252.18 L361.15,252.31 L361.73,252.44 L362.31,252.56 L362.91,252.68 L363.51,252.81 L364.11,252.93 L364.73,253.05 L365.35,253.17 L365.98,253.29 L366.62,253.41 L367.27,253.53 L367.93,253.64 L368.59,253.76 L369.26,253.87 L369.94,253.99 L370.63,254.1 L371.33,254.22 L372.04,254.33 L372.76,254.44 L373.49,254.55 L374.23,254.66 L374.97,254.77 L375.73,254.88 L376.5,254.99 L377.28,255.1 L378.07,255.2 L378.87,255.31 L379.68,255.41 L380.51,255.52 L381.35,255.62 L382.19,255.73 L383.06,255.83 L383.93,255.93 L384.82,256.03 L385.72,256.13 L386.63,256.23 L387.56,256.33 L388.5,256.43 L389.46,256.53 L390.43,256.62 L391.41,256.72 L392.42,256.82 L393.43,256.91 L394.47,257.01 L395.52,257.1 L396.59,257.2 L397.67,257.29 L398.78,257.38 L399.9,257.47 L401.04,257.56 L402.2,257.65 L403.38,257.74 L404.58,257.83 L405.8,257.92 L407.05,258.01 L408.31,258.1 L409.6,258.19 L410.91,258.27 L412.25,258.36 L413.61,258.44 L414.99,258.53 L416.4,258.61 L417.84,258.7 L419.3,258.78 L420.8,258.86 L422.32,258.94 L423.87,259.03 L425.45,259.11 L427.07,259.19 L427.89,259.23 L428.72,259.27 L429.55,259.31 L430.4,259.35 L431.25,259.39 L432.11,259.43 L432.98,259.47 L433.87,259.5 L434.75,259.54 L435.65,259.58 L436.56,259.62 L437.48,259.66 L438.41,259.7 L439.35,259.74 L440.29,259.78 L441.25,259.81 L442.22,259.85 L443.2,259.89 L444.19,259.93 L445.19,259.97 L446.21,260 L447.23,260.04 L448.27,260.08 L449.31,260.12 L450.37,260.15 L451.45,260.19 L452.53,260.23 L453.63,260.26 L454.74,260.3 L455.86,260.34 L456.99,260.37 L458.14,260.41 L459.31,260.45 L460.48,260.48 L461.68,260.52 L462.88,260.55 L464.1,260.59 L465.34,260.62 L466.59,260.66 L467.86,260.7 L469.14,260.73 L470.44,260.77 L471.76,260.8 L473.09,260.84 L474.44,260.87 L475.81,260.91 L477.19,260.94 L478.6,260.97 L480.02,261.01 L481.46,261.04 L482.92,261.08 L484.4,261.11 L485.9,261.15 L487.42,261.18 L488.96,261.21 L490.53,261.25 L492.11,261.28 L493.72,261.31 L495.35,261.35 L497.01,261.38 L498.68,261.41 L500.39,261.45 L502.11,261.48 L503.87,261.51 L505.64,261.54 L507.45,261.58 L509.28,261.61 L511.14,261.64 L513.03,261.67 L514.95,261.71 L516.9,261.74 L518.87,261.77 L520.88,261.8 L522.92,261.83 L525,261.87 L527.1,261.9 L529.24,261.93 L531.42,261.96 L533.63,261.99 L535.88,262.02 L538.17,262.05 L540.5,262.08 L542.86,262.12 L545.27,262.15 L547.72,262.18 L550.21,262.21 L552.74,262.24 L555.32,262.27 L557.95,262.3 L560.63,262.33 L563.35,262.36 L566.13,262.39 L568.95,262.42 L571.83,262.45 L574.77,262.48 L577.76,262.51 L580.81,262.54 L583.92,262.57 L587.09,262.6 L590.32,262.63 L593.62,262.65 L596.99,262.68 L600.43,262.71 L603.93,262.74 L607.52,262.77 L611.17,262.8 L614.91,262.83 L618.73,262.86 L622.63,262.89 L626.62,262.91 L630.7,262.94 L634.87,262.97 L639.14,263 L643.5,263.03 L647.97,263.05 L652.55,263.08 L657.24,263.11 L662.04,263.14 L666.96,263.16 L672,263.19 L677.17,263.22 L682.47,263.25 L687.91,263.27 L693.49,263.3 L699.23,263.33 L705.11,263.36 L711.16,263.38 L717.38,263.41 L723.77,263.44 L730.34,263.46 L737.11,263.49 L744.07,263.52 L751.25,263.54 L758.63,263.57 L766.25,263.59 L774.11,263.62 L782.21,263.65 L790.58,263.67 L799.22,263.7 L808.15,263.73 L817.38,263.75 L826.93,263.78 L836.81,263.8 L847.05,263.83 L857.66,263.85 L868.66,263.88 L880.08,263.9 L891.94,263.93 L904.26,263.95 L917.07,263.98 L930.41,264 L944.31,264.03 L958.79,264.05 L973.91,264.08 L989.69,264.1 L1006.2,264.13 L1023.47,264.15 L1041.57,264.18 L1060.55,264.2 L1080.47,264.23 L1101.42,264.25 L1123.47,264.27 L1146.72,264.3 L1171.25,264.32 L1197.19,264.35 L1224.65,264.37 L1253.78,264.39 L1284.73,264.42 L1317.68,264.44 L1352.82,264.46" fill="none" stroke="#0b0ba8" stroke-width="2"/>
<circle cx="672" cy="263.19" r="2.9" fill="#fff" stroke="#0b0ba8" stroke-width="1.0"/>
<circle cx="467.86" cy="260.7" r="2.9" fill="#fff" stroke="#0b0ba8" stroke-width="1.0"/>
<circle cx="399.9" cy="257.47" r="2.9" fill="#fff" stroke="#0b0ba8" stroke-width="1.0"/>
<circle cx="365.98" cy="253.29" r="2.9" fill="#fff" stroke="#0b0ba8" stroke-width="1.0"/>
<circle cx="345.69" cy="247.83" r="2.9" fill="#fff" stroke="#0b0ba8" stroke-width="1.0"/>
<circle cx="332.2" cy="240.66" r="2.9" fill="#fff" stroke="#0b0ba8" stroke-width="1.0"/>
<circle cx="322.6" cy="231.22" r="2.9" fill="#fff" stroke="#0b0ba8" stroke-width="1.0"/>
<circle cx="315.44" cy="218.71" r="2.9" fill="#fff" stroke="#0b0ba8" stroke-width="1.0"/>
<circle cx="309.89" cy="202.07" r="2.9" fill="#fff" stroke="#0b0ba8" stroke-width="1.0"/>
<circle cx="305.48" cy="179.87" r="2.9" fill="#fff" stroke="#0b0ba8" stroke-width="1.0"/>
<circle cx="301.9" cy="150.14" r="2.9" fill="#fff" stroke="#0b0ba8" stroke-width="1.0"/>
<circle cx="298.93" cy="110.21" r="2.9" fill="#fff" stroke="#0b0ba8" stroke-width="1.0"/>
<circle cx="296.44" cy="56.4" r="2.9" fill="#fff" stroke="#0b0ba8" stroke-width="1.0"/>
<path d="M308.6,17.7 V96 M307,17.7 H310.2 M307,96 H310.2" stroke="#111" stroke-width="0.9" fill="none"/><path d="M301.7,57.3 H315.3 M301.7,55.7 V58.9 M315.3,55.7 V58.9" stroke="#111" stroke-width="0.9" fill="none"/>
<path d="M317.6,43.1 V85.6 M316,43.1 H319.2 M316,85.6 H319.2" stroke="#111" stroke-width="0.9" fill="none"/><path d="M312.3,65 H323.4 M312.3,63.4 V66.6 M323.4,63.4 V66.6" stroke="#111" stroke-width="0.9" fill="none"/>
<path d="M336.8,52.1 V87.2 M335.2,52.1 H338.4 M335.2,87.2 H338.4" stroke="#111" stroke-width="0.9" fill="none"/><path d="M332.2,69.6 H341.4 M332.2,68 V71.2 M341.4,68 V71.2" stroke="#111" stroke-width="0.9" fill="none"/>
<path d="M336,66 V87.2 M334.4,66 H337.6 M334.4,87.2 H337.6" stroke="#111" stroke-width="0.9" fill="none"/><path d="M331,76.9 H341 M331,75.3 V78.5 M341,75.3 V78.5" stroke="#111" stroke-width="0.9" fill="none"/>
<path d="M366.2,72.5 V93.3 M364.6,72.5 H367.8 M364.6,93.3 H367.8" stroke="#111" stroke-width="0.9" fill="none"/><path d="M359.7,83.5 H372.7 M359.7,81.9 V85.1 M372.7,81.9 V85.1" stroke="#111" stroke-width="0.9" fill="none"/>
<path d="M305.5,57 V84 M303.9,57 H307.1 M303.9,84 H307.1" stroke="#111" stroke-width="0.9" fill="none"/><path d="M302,69.3 H309 M302,67.7 V70.9 M309,67.7 V70.9" stroke="#111" stroke-width="0.9" fill="none"/>
<path d="M307.8,60 V92 M306.2,60 H309.4 M306.2,92 H309.4" stroke="#111" stroke-width="0.9" fill="none"/><path d="M303,74.5 H312 M303,72.9 V76.1 M312,72.9 V76.1" stroke="#111" stroke-width="0.9" fill="none"/>
<path d="M291.6,58.5 V82 M290,58.5 H293.2 M290,82 H293.2" stroke="#111" stroke-width="0.9" fill="none"/><path d="M288,69.7 H295 M288,68.1 V71.3 M295,68.1 V71.3" stroke="#111" stroke-width="0.9" fill="none"/>
<path d="M296.9,70 V96 M295.3,70 H298.5 M295.3,96 H298.5" stroke="#111" stroke-width="0.9" fill="none"/><path d="M293,79.5 H301 M293,77.9 V81.1 M301,77.9 V81.1" stroke="#111" stroke-width="0.9" fill="none"/>
<path d="M399.3,54.6 V103.9 M397.7,54.6 H400.9 M397.7,103.9 H400.9" stroke="#111" stroke-width="0.9" fill="none"/><path d="M388.2,79.7 H410.3 M388.2,78.1 V81.3 M410.3,78.1 V81.3" stroke="#111" stroke-width="0.9" fill="none"/>
<path d="M395.9,66.8 V109.6 M394.3,66.8 H397.5 M394.3,109.6 H397.5" stroke="#111" stroke-width="0.9" fill="none"/><path d="M387.4,88.7 H405.4 M387.4,87.1 V90.3 M405.4,87.1 V90.3" stroke="#111" stroke-width="0.9" fill="none"/>
<path d="M426.3,87.6 V117 M424.7,87.6 H427.9 M424.7,117 H427.9" stroke="#111" stroke-width="0.9" fill="none"/><path d="M415.2,102.7 H437 M415.2,101.1 V104.3 M437,101.1 V104.3" stroke="#111" stroke-width="0.9" fill="none"/>
<path d="M443.3,81 V124.3 M441.7,81 H444.9 M441.7,124.3 H444.9" stroke="#111" stroke-width="0.9" fill="none"/><path d="M436,103.1 H451 M436,101.5 V104.7 M451,101.5 V104.7" stroke="#111" stroke-width="0.9" fill="none"/>
<path d="M435.6,96.5 V120 M434,96.5 H437.2 M434,120 H437.2" stroke="#111" stroke-width="0.9" fill="none"/><path d="M427,111.2 H445 M427,109.6 V112.8 M445,109.6 V112.8" stroke="#111" stroke-width="0.9" fill="none"/>
<path d="M434.8,100 V133.8 M433.2,100 H436.4 M433.2,133.8 H436.4" stroke="#111" stroke-width="0.9" fill="none"/><path d="M421.7,115.3 H448 M421.7,113.7 V116.9 M448,113.7 V116.9" stroke="#111" stroke-width="0.9" fill="none"/>
<path d="M439.3,105 V124 M437.7,105 H440.9 M437.7,124 H440.9" stroke="#111" stroke-width="0.9" fill="none"/><path d="M432,115.3 H447 M432,113.7 V116.9 M447,113.7 V116.9" stroke="#111" stroke-width="0.9" fill="none"/>
<path d="M447.5,94.9 V118 M445.9,94.9 H449.1 M445.9,118 H449.1" stroke="#111" stroke-width="0.9" fill="none"/><path d="M441,106.3 H455 M441,104.7 V107.9 M455,104.7 V107.9" stroke="#111" stroke-width="0.9" fill="none"/>
<path d="M452.7,100 V120 M451.1,100 H454.3 M451.1,120 H454.3" stroke="#111" stroke-width="0.9" fill="none"/><path d="M445,110.4 H458 M445,108.8 V112 M458,108.8 V112" stroke="#111" stroke-width="0.9" fill="none"/>
<path d="M486.6,109.3 V133.6 M485,109.3 H488.2 M485,133.6 H488.2" stroke="#111" stroke-width="0.9" fill="none"/><path d="M474.4,122.1 H498 M474.4,120.5 V123.7 M498,120.5 V123.7" stroke="#111" stroke-width="0.9" fill="none"/>
<path d="M503.3,110.3 V130.9 M501.7,110.3 H504.9 M501.7,130.9 H504.9" stroke="#111" stroke-width="0.9" fill="none"/><path d="M491.1,121.1 H518.2 M491.1,119.5 V122.7 M518.2,119.5 V122.7" stroke="#111" stroke-width="0.9" fill="none"/>
<path d="M494.6,125.4 V166.8 M493,125.4 H496.2 M493,166.8 H496.2" stroke="#111" stroke-width="0.9" fill="none"/><path d="M450.3,147 H539.1 M450.3,145.4 V148.6 M539.1,145.4 V148.6" stroke="#111" stroke-width="0.9" fill="none"/>
<path d="M530.7,118.9 V165.3 M529.1,118.9 H532.3 M529.1,165.3 H532.3" stroke="#111" stroke-width="0.9" fill="none"/><path d="M489.1,142.6 H572.3 M489.1,141 V144.2 M572.3,141 V144.2" stroke="#111" stroke-width="0.9" fill="none"/>
<path d="M573.6,118.7 V145.6 M572,118.7 H575.2 M572,145.6 H575.2" stroke="#111" stroke-width="0.9" fill="none"/><path d="M555.6,132.5 H591.9 M555.6,130.9 V134.1 M591.9,130.9 V134.1" stroke="#111" stroke-width="0.9" fill="none"/>
<path d="M588.4,126.2 V150.1 M586.8,126.2 H590 M586.8,150.1 H590" stroke="#111" stroke-width="0.9" fill="none"/><path d="M568,138.3 H609 M568,136.7 V139.9 M609,136.7 V139.9" stroke="#111" stroke-width="0.9" fill="none"/>
<path d="M308.6,54.38 L311.3,59.24 L305.9,59.24 Z" fill="#1ba3e2" stroke="#000" stroke-width="0.7"/>
<path d="M317.6,62.08 L320.3,66.94 L314.9,66.94 Z" fill="#1ba3e2" stroke="#000" stroke-width="0.7"/>
<path d="M336.8,66.68 L339.5,71.54 L334.1,71.54 Z" fill="#1ba3e2" stroke="#000" stroke-width="0.7"/>
<path d="M336,73.98 L338.7,78.84 L333.3,78.84 Z" fill="#1ba3e2" stroke="#000" stroke-width="0.7"/>
<path d="M366.2,80.58 L368.9,85.44 L363.5,85.44 Z" fill="#1ba3e2" stroke="#000" stroke-width="0.7"/>
<path d="M305.5,66.38 L308.2,71.24 L302.8,71.24 Z" fill="#1ba3e2" stroke="#000" stroke-width="0.7"/>
<path d="M307.8,71.58 L310.5,76.44 L305.1,76.44 Z" fill="#1ba3e2" stroke="#000" stroke-width="0.7"/>
<path d="M291.6,66.78 L294.3,71.64 L288.9,71.64 Z" fill="#1ba3e2" stroke="#000" stroke-width="0.7"/>
<path d="M296.9,76.58 L299.6,81.44 L294.2,81.44 Z" fill="#1ba3e2" stroke="#000" stroke-width="0.7"/>
<path d="M399.3,76.78 L402,81.64 L396.6,81.64 Z" fill="#1ba3e2" stroke="#000" stroke-width="0.7"/>
<path d="M395.9,85.78 L398.6,90.64 L393.2,90.64 Z" fill="#1ba3e2" stroke="#000" stroke-width="0.7"/>
<path d="M426.3,99.78 L429,104.64 L423.6,104.64 Z" fill="#1ba3e2" stroke="#000" stroke-width="0.7"/>
<path d="M443.3,100.18 L446,105.04 L440.6,105.04 Z" fill="#1ba3e2" stroke="#000" stroke-width="0.7"/>
<path d="M435.6,108.28 L438.3,113.14 L432.9,113.14 Z" fill="#1ba3e2" stroke="#000" stroke-width="0.7"/>
<path d="M434.8,112.38 L437.5,117.24 L432.1,117.24 Z" fill="#1ba3e2" stroke="#000" stroke-width="0.7"/>
<path d="M439.3,112.38 L442,117.24 L436.6,117.24 Z" fill="#1ba3e2" stroke="#000" stroke-width="0.7"/>
<path d="M447.5,103.38 L450.2,108.24 L444.8,108.24 Z" fill="#1ba3e2" stroke="#000" stroke-width="0.7"/>
<path d="M452.7,107.48 L455.4,112.34 L450,112.34 Z" fill="#1ba3e2" stroke="#000" stroke-width="0.7"/>
<path d="M486.6,119.18 L489.3,124.04 L483.9,124.04 Z" fill="#1ba3e2" stroke="#000" stroke-width="0.7"/>
<path d="M503.3,118.18 L506,123.04 L500.6,123.04 Z" fill="#1ba3e2" stroke="#000" stroke-width="0.7"/>
<path d="M494.6,144.08 L497.3,148.94 L491.9,148.94 Z" fill="#1ba3e2" stroke="#000" stroke-width="0.7"/>
<path d="M530.7,139.68 L533.4,144.54 L528,144.54 Z" fill="#1ba3e2" stroke="#000" stroke-width="0.7"/>
<path d="M573.6,129.58 L576.3,134.44 L570.9,134.44 Z" fill="#1ba3e2" stroke="#000" stroke-width="0.7"/>
<path d="M588.4,135.38 L591.1,140.24 L585.7,140.24 Z" fill="#1ba3e2" stroke="#000" stroke-width="0.7"/>
<path d="M340.11,161.53 V181.86 M338.61,161.53 H341.61 M338.61,181.86 H341.61" stroke="#111" stroke-width="1.0" fill="none"/><path d="M337.24,171.7 H342.98 M337.24,170.2 V173.2 M342.98,170.2 V173.2" stroke="#111" stroke-width="1.0" fill="none"/>
<path d="M344.68,191.06 V199.87 M343.18,191.06 H346.18 M343.18,199.87 H346.18" stroke="#111" stroke-width="1.0" fill="none"/><path d="M340.42,195.47 H348.95 M340.42,193.97 V196.97 M348.95,193.97 V196.97" stroke="#111" stroke-width="1.0" fill="none"/>
<path d="M373.13,144.18 V164.23 M371.63,144.18 H374.63 M371.63,164.23 H374.63" stroke="#111" stroke-width="1.0" fill="none"/><path d="M370.08,154.2 H376.19 M370.08,152.7 V155.7 M376.19,152.7 V155.7" stroke="#111" stroke-width="1.0" fill="none"/>
<path d="M341.27,174.38 V197.42 M339.77,174.38 H342.77 M339.77,197.42 H342.77" stroke="#111" stroke-width="1.0" fill="none"/><path d="M338.48,185.9 H344.06 M338.48,184.4 V187.4 M344.06,184.4 V187.4" stroke="#111" stroke-width="1.0" fill="none"/>
<path d="M318.07,100.05 V112.24 M316.57,100.05 H319.57 M316.57,112.24 H319.57" stroke="#111" stroke-width="1.0" fill="none"/><path d="M312.89,106.15 H323.25 M312.89,104.65 V107.65 M323.25,104.65 V107.65" stroke="#111" stroke-width="1.0" fill="none"/>
<path d="M375.92,187.54 V205.66 M374.42,187.54 H377.42 M374.42,205.66 H377.42" stroke="#111" stroke-width="1.0" fill="none"/><path d="M369.8,196.6 H382.05 M369.8,195.1 V198.1 M382.05,195.1 V198.1" stroke="#111" stroke-width="1.0" fill="none"/>
<path d="M373.6,156 V181.54 M372.1,156 H375.1 M372.1,181.54 H375.1" stroke="#111" stroke-width="1.0" fill="none"/><path d="M370.83,168.77 H376.38 M370.83,167.27 V170.27 M376.38,167.27 V170.27" stroke="#111" stroke-width="1.0" fill="none"/>
<path d="M348.18,139.94 V148.53 M346.68,139.94 H349.68 M346.68,148.53 H349.68" stroke="#111" stroke-width="1.0" fill="none"/><path d="M345.48,144.23 H350.89 M345.48,142.73 V145.73 M350.89,142.73 V145.73" stroke="#111" stroke-width="1.0" fill="none"/>
<path d="M368.18,158.13 V167.35 M366.68,158.13 H369.68 M366.68,167.35 H369.68" stroke="#111" stroke-width="1.0" fill="none"/><path d="M365.05,162.74 H371.31 M365.05,161.24 V164.24 M371.31,161.24 V164.24" stroke="#111" stroke-width="1.0" fill="none"/>
<path d="M370.06,140.91 V152.98 M368.56,140.91 H371.56 M368.56,152.98 H371.56" stroke="#111" stroke-width="1.0" fill="none"/><path d="M365.59,146.95 H374.53 M365.59,145.45 V148.45 M374.53,145.45 V148.45" stroke="#111" stroke-width="1.0" fill="none"/>
<path d="M385.26,186.86 V197.31 M383.76,186.86 H386.76 M383.76,197.31 H386.76" stroke="#111" stroke-width="1.0" fill="none"/><path d="M382.21,192.09 H388.32 M382.21,190.59 V193.59 M388.32,190.59 V193.59" stroke="#111" stroke-width="1.0" fill="none"/>
<path d="M374.6,197.59 V206.36 M373.1,197.59 H376.1 M373.1,206.36 H376.1" stroke="#111" stroke-width="1.0" fill="none"/><path d="M370.82,201.98 H378.38 M370.82,200.48 V203.48 M378.38,200.48 V203.48" stroke="#111" stroke-width="1.0" fill="none"/>
<path d="M351.95,142.2 V154.47 M350.45,142.2 H353.45 M350.45,154.47 H353.45" stroke="#111" stroke-width="1.0" fill="none"/><path d="M346.65,148.33 H357.26 M346.65,146.83 V149.83 M357.26,146.83 V149.83" stroke="#111" stroke-width="1.0" fill="none"/>
<path d="M370.69,181.25 V201.28 M369.19,181.25 H372.19 M369.19,201.28 H372.19" stroke="#111" stroke-width="1.0" fill="none"/><path d="M364.65,191.26 H376.73 M364.65,189.76 V192.76 M376.73,189.76 V192.76" stroke="#111" stroke-width="1.0" fill="none"/>
<path d="M347.84,189.95 V214.57 M346.34,189.95 H349.34 M346.34,214.57 H349.34" stroke="#111" stroke-width="1.0" fill="none"/><path d="M342.43,202.26 H353.25 M342.43,200.76 V203.76 M353.25,200.76 V203.76" stroke="#111" stroke-width="1.0" fill="none"/>
<path d="M381.4,158.63 V184.33 M379.9,158.63 H382.9 M379.9,184.33 H382.9" stroke="#111" stroke-width="1.0" fill="none"/><path d="M375.41,171.48 H387.38 M375.41,169.98 V172.98 M387.38,169.98 V172.98" stroke="#111" stroke-width="1.0" fill="none"/>
<path d="M356.51,191 V201.22 M355.01,191 H358.01 M355.01,201.22 H358.01" stroke="#111" stroke-width="1.0" fill="none"/><path d="M351.3,196.11 H361.71 M351.3,194.61 V197.61 M361.71,194.61 V197.61" stroke="#111" stroke-width="1.0" fill="none"/>
<path d="M397.64,173.81 V186.74 M396.14,173.81 H399.14 M396.14,186.74 H399.14" stroke="#111" stroke-width="1.0" fill="none"/><path d="M392.81,180.27 H402.47 M392.81,178.77 V181.77 M402.47,178.77 V181.77" stroke="#111" stroke-width="1.0" fill="none"/>
<path d="M369.71,193.93 V209.89 M368.21,193.93 H371.21 M368.21,209.89 H371.21" stroke="#111" stroke-width="1.0" fill="none"/><path d="M363.95,201.91 H375.48 M363.95,200.41 V203.41 M375.48,200.41 V203.41" stroke="#111" stroke-width="1.0" fill="none"/>
<path d="M387.01,182.12 V191.78 M385.51,182.12 H388.51 M385.51,191.78 H388.51" stroke="#111" stroke-width="1.0" fill="none"/><path d="M383.46,186.95 H390.56 M383.46,185.45 V188.45 M390.56,185.45 V188.45" stroke="#111" stroke-width="1.0" fill="none"/>
<path d="M334.9,101.53 V126.12 M333.4,101.53 H336.4 M333.4,126.12 H336.4" stroke="#111" stroke-width="1.0" fill="none"/><path d="M332.33,113.83 H337.47 M332.33,112.33 V115.33 M337.47,112.33 V115.33" stroke="#111" stroke-width="1.0" fill="none"/>
<path d="M361.12,151.36 V162.71 M359.62,151.36 H362.62 M359.62,162.71 H362.62" stroke="#111" stroke-width="1.0" fill="none"/><path d="M355.91,157.04 H366.32 M355.91,155.54 V158.54 M366.32,155.54 V158.54" stroke="#111" stroke-width="1.0" fill="none"/>
<path d="M353.86,191.08 V207.79 M352.36,191.08 H355.36 M352.36,207.79 H355.36" stroke="#111" stroke-width="1.0" fill="none"/><path d="M350.94,199.44 H356.78 M350.94,197.94 V200.94 M356.78,197.94 V200.94" stroke="#111" stroke-width="1.0" fill="none"/>
<path d="M363.48,173.4 V187.7 M361.98,173.4 H364.98 M361.98,187.7 H364.98" stroke="#111" stroke-width="1.0" fill="none"/><path d="M358.59,180.55 H368.37 M358.59,179.05 V182.05 M368.37,179.05 V182.05" stroke="#111" stroke-width="1.0" fill="none"/>
<path d="M376.03,180.34 V191 M374.53,180.34 H377.53 M374.53,191 H377.53" stroke="#111" stroke-width="1.0" fill="none"/><path d="M373.38,185.67 H378.69 M373.38,184.17 V187.17 M378.69,184.17 V187.17" stroke="#111" stroke-width="1.0" fill="none"/>
<path d="M357.87,229.86 V245.76 M356.37,229.86 H359.37 M356.37,245.76 H359.37" stroke="#111" stroke-width="1.0" fill="none"/><path d="M352.65,237.81 H363.08 M352.65,236.31 V239.31 M363.08,236.31 V239.31" stroke="#111" stroke-width="1.0" fill="none"/>
<path d="M363.8,137.55 V150.62 M362.3,137.55 H365.3 M362.3,150.62 H365.3" stroke="#111" stroke-width="1.0" fill="none"/><path d="M359.12,144.08 H368.47 M359.12,142.58 V145.58 M368.47,142.58 V145.58" stroke="#111" stroke-width="1.0" fill="none"/>
<path d="M310.95,98.58 V121.38 M309.45,98.58 H312.45 M309.45,121.38 H312.45" stroke="#111" stroke-width="1.0" fill="none"/><path d="M306.85,109.98 H315.06 M306.85,108.48 V111.48 M315.06,108.48 V111.48" stroke="#111" stroke-width="1.0" fill="none"/>
<path d="M393.38,169.28 V194.59 M391.88,169.28 H394.88 M391.88,194.59 H394.88" stroke="#111" stroke-width="1.0" fill="none"/><path d="M389.18,181.94 H397.57 M389.18,180.44 V183.44 M397.57,180.44 V183.44" stroke="#111" stroke-width="1.0" fill="none"/>
<path d="M386.6,215.49 V223.93 M385.1,215.49 H388.1 M385.1,223.93 H388.1" stroke="#111" stroke-width="1.0" fill="none"/><path d="M383.84,219.71 H389.35 M383.84,218.21 V221.21 M389.35,218.21 V221.21" stroke="#111" stroke-width="1.0" fill="none"/>
<path d="M367.96,145.06 V170.56 M366.46,145.06 H369.46 M366.46,170.56 H369.46" stroke="#111" stroke-width="1.0" fill="none"/><path d="M364.79,157.81 H371.12 M364.79,156.31 V159.31 M371.12,156.31 V159.31" stroke="#111" stroke-width="1.0" fill="none"/>
<path d="M363.4,154.12 V172.23 M361.9,154.12 H364.9 M361.9,172.23 H364.9" stroke="#111" stroke-width="1.0" fill="none"/><path d="M357.51,163.17 H369.29 M357.51,161.67 V164.67 M369.29,161.67 V164.67" stroke="#111" stroke-width="1.0" fill="none"/>
<path d="M350.06,199.18 V220.55 M348.56,199.18 H351.56 M348.56,220.55 H351.56" stroke="#111" stroke-width="1.0" fill="none"/><path d="M346.56,209.87 H353.56 M346.56,208.37 V211.37 M353.56,208.37 V211.37" stroke="#111" stroke-width="1.0" fill="none"/>
<path d="M351.63,176.15 V194.58 M350.13,176.15 H353.13 M350.13,194.58 H353.13" stroke="#111" stroke-width="1.0" fill="none"/><path d="M348.56,185.37 H354.71 M348.56,183.87 V186.87 M354.71,183.87 V186.87" stroke="#111" stroke-width="1.0" fill="none"/>
<path d="M371.51,171.63 V190.19 M370.01,171.63 H373.01 M370.01,190.19 H373.01" stroke="#111" stroke-width="1.0" fill="none"/><path d="M367.29,180.91 H375.73 M367.29,179.41 V182.41 M375.73,179.41 V182.41" stroke="#111" stroke-width="1.0" fill="none"/>
<path d="M393.84,206.72 V223.56 M392.34,206.72 H395.34 M392.34,223.56 H395.34" stroke="#111" stroke-width="1.0" fill="none"/><path d="M387.54,215.14 H400.14 M387.54,213.64 V216.64 M400.14,213.64 V216.64" stroke="#111" stroke-width="1.0" fill="none"/>
<path d="M327.93,102.33 V126.37 M326.43,102.33 H329.43 M326.43,126.37 H329.43" stroke="#111" stroke-width="1.0" fill="none"/><path d="M322.95,114.35 H332.92 M322.95,112.85 V115.85 M332.92,112.85 V115.85" stroke="#111" stroke-width="1.0" fill="none"/>
<path d="M359.2,226.41 V244.52 M357.7,226.41 H360.7 M357.7,244.52 H360.7" stroke="#111" stroke-width="1.0" fill="none"/><path d="M354.82,235.47 H363.57 M354.82,233.97 V236.97 M363.57,233.97 V236.97" stroke="#111" stroke-width="1.0" fill="none"/>
<path d="M328.91,113.15 V137.96 M327.41,113.15 H330.41 M327.41,137.96 H330.41" stroke="#111" stroke-width="1.0" fill="none"/><path d="M323.35,125.55 H334.47 M323.35,124.05 V127.05 M334.47,124.05 V127.05" stroke="#111" stroke-width="1.0" fill="none"/>
<path d="M338.03,111.94 V127.21 M336.53,111.94 H339.53 M336.53,127.21 H339.53" stroke="#111" stroke-width="1.0" fill="none"/><path d="M333.31,119.58 H342.75 M333.31,118.08 V121.08 M342.75,118.08 V121.08" stroke="#111" stroke-width="1.0" fill="none"/>
<path d="M372.46,149.49 V168.99 M370.96,149.49 H373.96 M370.96,168.99 H373.96" stroke="#111" stroke-width="1.0" fill="none"/><path d="M368.6,159.24 H376.32 M368.6,157.74 V160.74 M376.32,157.74 V160.74" stroke="#111" stroke-width="1.0" fill="none"/>
<path d="M390.77,191.65 V208.28 M389.27,191.65 H392.27 M389.27,208.28 H392.27" stroke="#111" stroke-width="1.0" fill="none"/><path d="M388.26,199.96 H393.29 M388.26,198.46 V201.46 M393.29,198.46 V201.46" stroke="#111" stroke-width="1.0" fill="none"/>
<path d="M371.5,161.86 V184.27 M370,161.86 H373 M370,184.27 H373" stroke="#111" stroke-width="1.0" fill="none"/><path d="M366.02,173.06 H376.98 M366.02,171.56 V174.56 M376.98,171.56 V174.56" stroke="#111" stroke-width="1.0" fill="none"/>
<path d="M332.55,124.53 V144.45 M331.05,124.53 H334.05 M331.05,144.45 H334.05" stroke="#111" stroke-width="1.0" fill="none"/><path d="M327.3,134.49 H337.79 M327.3,132.99 V135.99 M337.79,132.99 V135.99" stroke="#111" stroke-width="1.0" fill="none"/>
<path d="M317.47,103.77 V127.01 M315.97,103.77 H318.97 M315.97,127.01 H318.97" stroke="#111" stroke-width="1.0" fill="none"/><path d="M312.98,115.39 H321.96 M312.98,113.89 V116.89 M321.96,113.89 V116.89" stroke="#111" stroke-width="1.0" fill="none"/>
<path d="M375.53,164.1 V177.86 M374.03,164.1 H377.03 M374.03,177.86 H377.03" stroke="#111" stroke-width="1.0" fill="none"/><path d="M372.8,170.98 H378.25 M372.8,169.48 V172.48 M378.25,169.48 V172.48" stroke="#111" stroke-width="1.0" fill="none"/>
<path d="M309.03,93.79 V104.37 M307.53,93.79 H310.53 M307.53,104.37 H310.53" stroke="#111" stroke-width="1.0" fill="none"/><path d="M306.28,99.08 H311.77 M306.28,97.58 V100.58 M311.77,97.58 V100.58" stroke="#111" stroke-width="1.0" fill="none"/>
<path d="M362.6,195.89 V204.8 M361.1,195.89 H364.1 M361.1,204.8 H364.1" stroke="#111" stroke-width="1.0" fill="none"/><path d="M357.95,200.35 H367.26 M357.95,198.85 V201.85 M367.26,198.85 V201.85" stroke="#111" stroke-width="1.0" fill="none"/>
<path d="M316.76,87.67 V106.17 M315.26,87.67 H318.26 M315.26,106.17 H318.26" stroke="#111" stroke-width="1.0" fill="none"/><path d="M314.06,96.92 H319.46 M314.06,95.42 V98.42 M319.46,95.42 V98.42" stroke="#111" stroke-width="1.0" fill="none"/>
<path d="M360.64,190.54 V202.05 M359.14,190.54 H362.14 M359.14,202.05 H362.14" stroke="#111" stroke-width="1.0" fill="none"/><path d="M357.97,196.3 H363.3 M357.97,194.8 V197.8 M363.3,194.8 V197.8" stroke="#111" stroke-width="1.0" fill="none"/>
<path d="M381.1,185.42 V199.78 M379.6,185.42 H382.6 M379.6,199.78 H382.6" stroke="#111" stroke-width="1.0" fill="none"/><path d="M378.19,192.6 H384.01 M378.19,191.1 V194.1 M384.01,191.1 V194.1" stroke="#111" stroke-width="1.0" fill="none"/>
<path d="M395.85,179.34 V202.8 M394.35,179.34 H397.35 M394.35,202.8 H397.35" stroke="#111" stroke-width="1.0" fill="none"/><path d="M393.06,191.07 H398.64 M393.06,189.57 V192.57 M398.64,189.57 V192.57" stroke="#111" stroke-width="1.0" fill="none"/>
<path d="M381.47,195.38 V215.36 M379.97,195.38 H382.97 M379.97,215.36 H382.97" stroke="#111" stroke-width="1.0" fill="none"/><path d="M377.7,205.37 H385.23 M377.7,203.87 V206.87 M385.23,203.87 V206.87" stroke="#111" stroke-width="1.0" fill="none"/>
<path d="M359.81,162.47 V182.11 M358.31,162.47 H361.31 M358.31,182.11 H361.31" stroke="#111" stroke-width="1.0" fill="none"/><path d="M353.6,172.29 H366.01 M353.6,170.79 V173.79 M366.01,170.79 V173.79" stroke="#111" stroke-width="1.0" fill="none"/>
<path d="M372.99,142.24 V155.62 M371.49,142.24 H374.49 M371.49,155.62 H374.49" stroke="#111" stroke-width="1.0" fill="none"/><path d="M368.71,148.93 H377.28 M368.71,147.43 V150.43 M377.28,147.43 V150.43" stroke="#111" stroke-width="1.0" fill="none"/>
<path d="M384.68,171.89 V184.33 M383.18,171.89 H386.18 M383.18,184.33 H386.18" stroke="#111" stroke-width="1.0" fill="none"/><path d="M381.67,178.11 H387.69 M381.67,176.61 V179.61 M387.69,176.61 V179.61" stroke="#111" stroke-width="1.0" fill="none"/>
<path d="M339.38,151 V164.36 M337.88,151 H340.88 M337.88,164.36 H340.88" stroke="#111" stroke-width="1.0" fill="none"/><path d="M335.79,157.68 H342.98 M335.79,156.18 V159.18 M342.98,156.18 V159.18" stroke="#111" stroke-width="1.0" fill="none"/>
<path d="M383.72,207.47 V224.04 M382.22,207.47 H385.22 M382.22,224.04 H385.22" stroke="#111" stroke-width="1.0" fill="none"/><path d="M380.75,215.75 H386.69 M380.75,214.25 V217.25 M386.69,214.25 V217.25" stroke="#111" stroke-width="1.0" fill="none"/>
<path d="M382.69,176.06 V198.61 M381.19,176.06 H384.19 M381.19,198.61 H384.19" stroke="#111" stroke-width="1.0" fill="none"/><path d="M380.01,187.34 H385.36 M380.01,185.84 V188.84 M385.36,185.84 V188.84" stroke="#111" stroke-width="1.0" fill="none"/>
<path d="M346.26,144.59 V164.18 M344.76,144.59 H347.76 M344.76,164.18 H347.76" stroke="#111" stroke-width="1.0" fill="none"/><path d="M341.87,154.39 H350.64 M341.87,152.89 V155.89 M350.64,152.89 V155.89" stroke="#111" stroke-width="1.0" fill="none"/>
<path d="M336.12,144.52 V169.43 M334.62,144.52 H337.62 M334.62,169.43 H337.62" stroke="#111" stroke-width="1.0" fill="none"/><path d="M332.02,156.97 H340.22 M332.02,155.47 V158.47 M340.22,155.47 V158.47" stroke="#111" stroke-width="1.0" fill="none"/>
<path d="M392.14,189.74 V200.62 M390.64,189.74 H393.64 M390.64,200.62 H393.64" stroke="#111" stroke-width="1.0" fill="none"/><path d="M385.73,195.18 H398.54 M385.73,193.68 V196.68 M398.54,193.68 V196.68" stroke="#111" stroke-width="1.0" fill="none"/>
<path d="M373.19,232.8 V247.81 M371.69,232.8 H374.69 M371.69,247.81 H374.69" stroke="#111" stroke-width="1.0" fill="none"/><path d="M369.53,240.31 H376.84 M369.53,238.81 V241.81 M376.84,238.81 V241.81" stroke="#111" stroke-width="1.0" fill="none"/>
<path d="M374.69,207.52 V229.47 M373.19,207.52 H376.19 M373.19,229.47 H376.19" stroke="#111" stroke-width="1.0" fill="none"/><path d="M369.75,218.49 H379.63 M369.75,216.99 V219.99 M379.63,216.99 V219.99" stroke="#111" stroke-width="1.0" fill="none"/>
<path d="M365.91,182.26 V201.94 M364.41,182.26 H367.41 M364.41,201.94 H367.41" stroke="#111" stroke-width="1.0" fill="none"/><path d="M360.58,192.1 H371.25 M360.58,190.6 V193.6 M371.25,190.6 V193.6" stroke="#111" stroke-width="1.0" fill="none"/>
<path d="M388.27,222.32 V238.18 M386.77,222.32 H389.77 M386.77,238.18 H389.77" stroke="#111" stroke-width="1.0" fill="none"/><path d="M383.09,230.25 H393.45 M383.09,228.75 V231.75 M393.45,228.75 V231.75" stroke="#111" stroke-width="1.0" fill="none"/>
<path d="M344.43,189.64 V211.17 M342.93,189.64 H345.93 M342.93,211.17 H345.93" stroke="#111" stroke-width="1.0" fill="none"/><path d="M340.35,200.41 H348.5 M340.35,198.91 V201.91 M348.5,198.91 V201.91" stroke="#111" stroke-width="1.0" fill="none"/>
<path d="M306.23,88.35 V105.24 M304.73,88.35 H307.73 M304.73,105.24 H307.73" stroke="#111" stroke-width="1.0" fill="none"/><path d="M302.67,96.79 H309.79 M302.67,95.29 V98.29 M309.79,95.29 V98.29" stroke="#111" stroke-width="1.0" fill="none"/>
<path d="M390.44,181.17 V201.97 M388.94,181.17 H391.94 M388.94,201.97 H391.94" stroke="#111" stroke-width="1.0" fill="none"/><path d="M387.04,191.57 H393.83 M387.04,190.07 V193.07 M393.83,190.07 V193.07" stroke="#111" stroke-width="1.0" fill="none"/>
<path d="M331.99,153.95 V170.94 M330.49,153.95 H333.49 M330.49,170.94 H333.49" stroke="#111" stroke-width="1.0" fill="none"/><path d="M325.95,162.45 H338.02 M325.95,160.95 V163.95 M338.02,160.95 V163.95" stroke="#111" stroke-width="1.0" fill="none"/>
<path d="M325.84,124.41 V134.53 M324.34,124.41 H327.34 M324.34,134.53 H327.34" stroke="#111" stroke-width="1.0" fill="none"/><path d="M320.86,129.47 H330.81 M320.86,127.97 V130.97 M330.81,127.97 V130.97" stroke="#111" stroke-width="1.0" fill="none"/>
<path d="M346.99,179.37 V195.77 M345.49,179.37 H348.49 M345.49,195.77 H348.49" stroke="#111" stroke-width="1.0" fill="none"/><path d="M342.77,187.57 H351.22 M342.77,186.07 V189.07 M351.22,186.07 V189.07" stroke="#111" stroke-width="1.0" fill="none"/>
<path d="M334.86,132.78 V145.58 M333.36,132.78 H336.36 M333.36,145.58 H336.36" stroke="#111" stroke-width="1.0" fill="none"/><path d="M332.25,139.18 H337.47 M332.25,137.68 V140.68 M337.47,137.68 V140.68" stroke="#111" stroke-width="1.0" fill="none"/>
<path d="M367.92,176.08 V189.99 M366.42,176.08 H369.42 M366.42,189.99 H369.42" stroke="#111" stroke-width="1.0" fill="none"/><path d="M365.01,183.03 H370.83 M365.01,181.53 V184.53 M370.83,181.53 V184.53" stroke="#111" stroke-width="1.0" fill="none"/>
<path d="M390.92,212.46 V230.05 M389.42,212.46 H392.42 M389.42,230.05 H392.42" stroke="#111" stroke-width="1.0" fill="none"/><path d="M388.32,221.25 H393.53 M388.32,219.75 V222.75 M393.53,219.75 V222.75" stroke="#111" stroke-width="1.0" fill="none"/>
<path d="M358.37,158.81 V175.16 M356.87,158.81 H359.87 M356.87,175.16 H359.87" stroke="#111" stroke-width="1.0" fill="none"/><path d="M354.66,166.99 H362.08 M354.66,165.49 V168.49 M362.08,165.49 V168.49" stroke="#111" stroke-width="1.0" fill="none"/>
<path d="M393.75,180.78 V192.69 M392.25,180.78 H395.25 M392.25,192.69 H395.25" stroke="#111" stroke-width="1.0" fill="none"/><path d="M390.81,186.73 H396.68 M390.81,185.23 V188.23 M396.68,185.23 V188.23" stroke="#111" stroke-width="1.0" fill="none"/>
<path d="M324.05,132.84 V153.54 M322.55,132.84 H325.55 M322.55,153.54 H325.55" stroke="#111" stroke-width="1.0" fill="none"/><path d="M321.16,143.19 H326.94 M321.16,141.69 V144.69 M326.94,141.69 V144.69" stroke="#111" stroke-width="1.0" fill="none"/>
<path d="M353.67,126.3 V143.77 M352.17,126.3 H355.17 M352.17,143.77 H355.17" stroke="#111" stroke-width="1.0" fill="none"/><path d="M348.14,135.03 H359.19 M348.14,133.53 V136.53 M359.19,133.53 V136.53" stroke="#111" stroke-width="1.0" fill="none"/>
<path d="M325.84,144.64 V159.19 M324.34,144.64 H327.34 M324.34,159.19 H327.34" stroke="#111" stroke-width="1.0" fill="none"/><path d="M319.61,151.91 H332.07 M319.61,150.41 V153.41 M332.07,150.41 V153.41" stroke="#111" stroke-width="1.0" fill="none"/>
<path d="M346.35,132.33 V146.44 M344.85,132.33 H347.85 M344.85,146.44 H347.85" stroke="#111" stroke-width="1.0" fill="none"/><path d="M342.25,139.38 H350.44 M342.25,137.88 V140.88 M350.44,137.88 V140.88" stroke="#111" stroke-width="1.0" fill="none"/>
<path d="M356.78,176.07 V199.49 M355.28,176.07 H358.28 M355.28,199.49 H358.28" stroke="#111" stroke-width="1.0" fill="none"/><path d="M350.84,187.78 H362.72 M350.84,186.28 V189.28 M362.72,186.28 V189.28" stroke="#111" stroke-width="1.0" fill="none"/>
<path d="M361.23,172.92 V197.48 M359.73,172.92 H362.73 M359.73,197.48 H362.73" stroke="#111" stroke-width="1.0" fill="none"/><path d="M357.87,185.2 H364.59 M357.87,183.7 V186.7 M364.59,183.7 V186.7" stroke="#111" stroke-width="1.0" fill="none"/>
<path d="M362.41,144.19 V153.61 M360.91,144.19 H363.91 M360.91,153.61 H363.91" stroke="#111" stroke-width="1.0" fill="none"/><path d="M356.24,148.9 H368.57 M356.24,147.4 V150.4 M368.57,147.4 V150.4" stroke="#111" stroke-width="1.0" fill="none"/>
<path d="M365.31,189.25 V204.74 M363.81,189.25 H366.81 M363.81,204.74 H366.81" stroke="#111" stroke-width="1.0" fill="none"/><path d="M360.9,196.99 H369.71 M360.9,195.49 V198.49 M369.71,195.49 V198.49" stroke="#111" stroke-width="1.0" fill="none"/>
<path d="M394.67,187.54 V212.19 M393.17,187.54 H396.17 M393.17,212.19 H396.17" stroke="#111" stroke-width="1.0" fill="none"/><path d="M388.94,199.87 H400.4 M388.94,198.37 V201.37 M400.4,198.37 V201.37" stroke="#111" stroke-width="1.0" fill="none"/>
<path d="M309.04,105.41 V123.96 M307.54,105.41 H310.54 M307.54,123.96 H310.54" stroke="#111" stroke-width="1.0" fill="none"/><path d="M302.75,114.68 H315.33 M302.75,113.18 V116.18 M315.33,113.18 V116.18" stroke="#111" stroke-width="1.0" fill="none"/>
<path d="M352.71,137.76 V147.33 M351.21,137.76 H354.21 M351.21,147.33 H354.21" stroke="#111" stroke-width="1.0" fill="none"/><path d="M350.17,142.55 H355.26 M350.17,141.05 V144.05 M355.26,141.05 V144.05" stroke="#111" stroke-width="1.0" fill="none"/>
<path d="M359.79,211.04 V230.11 M358.29,211.04 H361.29 M358.29,230.11 H361.29" stroke="#111" stroke-width="1.0" fill="none"/><path d="M353.35,220.57 H366.24 M353.35,219.07 V222.07 M366.24,219.07 V222.07" stroke="#111" stroke-width="1.0" fill="none"/>
<path d="M360.67,179.74 V201.91 M359.17,179.74 H362.17 M359.17,201.91 H362.17" stroke="#111" stroke-width="1.0" fill="none"/><path d="M354.3,190.83 H367.05 M354.3,189.33 V192.33 M367.05,189.33 V192.33" stroke="#111" stroke-width="1.0" fill="none"/>
<path d="M338.01,175.76 V188.59 M336.51,175.76 H339.51 M336.51,188.59 H339.51" stroke="#111" stroke-width="1.0" fill="none"/><path d="M331.77,182.18 H344.25 M331.77,180.68 V183.68 M344.25,180.68 V183.68" stroke="#111" stroke-width="1.0" fill="none"/>
<path d="M330.72,133.68 V142.72 M329.22,133.68 H332.22 M329.22,142.72 H332.22" stroke="#111" stroke-width="1.0" fill="none"/><path d="M328.06,138.2 H333.39 M328.06,136.7 V139.7 M333.39,136.7 V139.7" stroke="#111" stroke-width="1.0" fill="none"/>
<path d="M350.22,125.3 V150.44 M348.72,125.3 H351.72 M348.72,150.44 H351.72" stroke="#111" stroke-width="1.0" fill="none"/><path d="M343.81,137.87 H356.62 M343.81,136.37 V139.37 M356.62,136.37 V139.37" stroke="#111" stroke-width="1.0" fill="none"/>
<path d="M331.8,134.62 V158.9 M330.3,134.62 H333.3 M330.3,158.9 H333.3" stroke="#111" stroke-width="1.0" fill="none"/><path d="M328.29,146.76 H335.32 M328.29,145.26 V148.26 M335.32,145.26 V148.26" stroke="#111" stroke-width="1.0" fill="none"/>
<path d="M379.33,217.65 V234.02 M377.83,217.65 H380.83 M377.83,234.02 H380.83" stroke="#111" stroke-width="1.0" fill="none"/><path d="M376.82,225.84 H381.84 M376.82,224.34 V227.34 M381.84,224.34 V227.34" stroke="#111" stroke-width="1.0" fill="none"/>
<path d="M358.86,164.51 V190.42 M357.36,164.51 H360.36 M357.36,190.42 H360.36" stroke="#111" stroke-width="1.0" fill="none"/><path d="M352.88,177.46 H364.83 M352.88,175.96 V178.96 M364.83,175.96 V178.96" stroke="#111" stroke-width="1.0" fill="none"/>
<path d="M316.33,103.4 V115.8 M314.83,103.4 H317.83 M314.83,115.8 H317.83" stroke="#111" stroke-width="1.0" fill="none"/><path d="M310.69,109.6 H321.97 M310.69,108.1 V111.1 M321.97,108.1 V111.1" stroke="#111" stroke-width="1.0" fill="none"/>
<path d="M340.94,127.13 V150.67 M339.44,127.13 H342.44 M339.44,150.67 H342.44" stroke="#111" stroke-width="1.0" fill="none"/><path d="M337.48,138.9 H344.4 M337.48,137.4 V140.4 M344.4,137.4 V140.4" stroke="#111" stroke-width="1.0" fill="none"/>
<path d="M349.57,186.4 V204.55 M348.07,186.4 H351.07 M348.07,204.55 H351.07" stroke="#111" stroke-width="1.0" fill="none"/><path d="M346.72,195.48 H352.42 M346.72,193.98 V196.98 M352.42,193.98 V196.98" stroke="#111" stroke-width="1.0" fill="none"/>
<path d="M370.76,187.67 V202.92 M369.26,187.67 H372.26 M369.26,202.92 H372.26" stroke="#111" stroke-width="1.0" fill="none"/><path d="M365.98,195.3 H375.54 M365.98,193.8 V196.8 M375.54,193.8 V196.8" stroke="#111" stroke-width="1.0" fill="none"/>
<path d="M383.14,186.32 V207.47 M381.64,186.32 H384.64 M381.64,207.47 H384.64" stroke="#111" stroke-width="1.0" fill="none"/><path d="M377.66,196.89 H388.61 M377.66,195.39 V198.39 M388.61,195.39 V198.39" stroke="#111" stroke-width="1.0" fill="none"/>
<path d="M368.74,233.95 V246.36 M367.24,233.95 H370.24 M367.24,246.36 H370.24" stroke="#111" stroke-width="1.0" fill="none"/><path d="M365.41,240.15 H372.07 M365.41,238.65 V241.65 M372.07,238.65 V241.65" stroke="#111" stroke-width="1.0" fill="none"/>
<path d="M317.68,122.27 V146 M316.18,122.27 H319.18 M316.18,146 H319.18" stroke="#111" stroke-width="1.0" fill="none"/><path d="M311.23,134.13 H324.12 M311.23,132.63 V135.63 M324.12,132.63 V135.63" stroke="#111" stroke-width="1.0" fill="none"/>
<path d="M337.78,125.36 V139.4 M336.28,125.36 H339.28 M336.28,139.4 H339.28" stroke="#111" stroke-width="1.0" fill="none"/><path d="M332.73,132.38 H342.84 M332.73,130.88 V133.88 M342.84,130.88 V133.88" stroke="#111" stroke-width="1.0" fill="none"/>
<path d="M329.77,148.74 V169.72 M328.27,148.74 H331.27 M328.27,169.72 H331.27" stroke="#111" stroke-width="1.0" fill="none"/><path d="M323.93,159.23 H335.62 M323.93,157.73 V160.73 M335.62,157.73 V160.73" stroke="#111" stroke-width="1.0" fill="none"/>
<path d="M357.79,128.04 V151.7 M356.29,128.04 H359.29 M356.29,151.7 H359.29" stroke="#111" stroke-width="1.0" fill="none"/><path d="M352.33,139.87 H363.24 M352.33,138.37 V141.37 M363.24,138.37 V141.37" stroke="#111" stroke-width="1.0" fill="none"/>
<path d="M326.63,103.98 V113.64 M325.13,103.98 H328.13 M325.13,113.64 H328.13" stroke="#111" stroke-width="1.0" fill="none"/><path d="M323.99,108.81 H329.26 M323.99,107.31 V110.31 M329.26,107.31 V110.31" stroke="#111" stroke-width="1.0" fill="none"/>
<path d="M351.13,181.28 V201.21 M349.63,181.28 H352.63 M349.63,201.21 H352.63" stroke="#111" stroke-width="1.0" fill="none"/><path d="M347.8,191.25 H354.46 M347.8,189.75 V192.75 M354.46,189.75 V192.75" stroke="#111" stroke-width="1.0" fill="none"/>
<path d="M363.66,236.91 V248.71 M362.16,236.91 H365.16 M362.16,248.71 H365.16" stroke="#111" stroke-width="1.0" fill="none"/><path d="M359.42,242.81 H367.9 M359.42,241.31 V244.31 M367.9,241.31 V244.31" stroke="#111" stroke-width="1.0" fill="none"/>
<path d="M361.49,205.55 V224.75 M359.99,205.55 H362.99 M359.99,224.75 H362.99" stroke="#111" stroke-width="1.0" fill="none"/><path d="M355.5,215.15 H367.48 M355.5,213.65 V216.65 M367.48,213.65 V216.65" stroke="#111" stroke-width="1.0" fill="none"/>
<path d="M336.11,142.35 V161.61 M334.61,142.35 H337.61 M334.61,161.61 H337.61" stroke="#111" stroke-width="1.0" fill="none"/><path d="M330.67,151.98 H341.55 M330.67,150.48 V153.48 M341.55,150.48 V153.48" stroke="#111" stroke-width="1.0" fill="none"/>
<path d="M370.98,199.24 V219.44 M369.48,199.24 H372.48 M369.48,219.44 H372.48" stroke="#111" stroke-width="1.0" fill="none"/><path d="M365.84,209.34 H376.11 M365.84,207.84 V210.84 M376.11,207.84 V210.84" stroke="#111" stroke-width="1.0" fill="none"/>
<path d="M360.74,197.01 V221.76 M359.24,197.01 H362.24 M359.24,221.76 H362.24" stroke="#111" stroke-width="1.0" fill="none"/><path d="M355.03,209.38 H366.44 M355.03,207.88 V210.88 M366.44,207.88 V210.88" stroke="#111" stroke-width="1.0" fill="none"/>
<path d="M332.01,148.41 V160.49 M330.51,148.41 H333.51 M330.51,160.49 H333.51" stroke="#111" stroke-width="1.0" fill="none"/><path d="M329.21,154.45 H334.81 M329.21,152.95 V155.95 M334.81,152.95 V155.95" stroke="#111" stroke-width="1.0" fill="none"/>
<path d="M383.73,156.5 V175.27 M382.23,156.5 H385.23 M382.23,175.27 H385.23" stroke="#111" stroke-width="1.0" fill="none"/><path d="M378.81,165.88 H388.65 M378.81,164.38 V167.38 M388.65,164.38 V167.38" stroke="#111" stroke-width="1.0" fill="none"/>
<path d="M327.59,135.51 V148.88 M326.09,135.51 H329.09 M326.09,148.88 H329.09" stroke="#111" stroke-width="1.0" fill="none"/><path d="M324.24,142.2 H330.95 M324.24,140.7 V143.7 M330.95,140.7 V143.7" stroke="#111" stroke-width="1.0" fill="none"/>
<path d="M386.81,162.05 V180.62 M385.31,162.05 H388.31 M385.31,180.62 H388.31" stroke="#111" stroke-width="1.0" fill="none"/><path d="M383.97,171.33 H389.65 M383.97,169.83 V172.83 M389.65,169.83 V172.83" stroke="#111" stroke-width="1.0" fill="none"/>
<path d="M351.89,150.56 V165.6 M350.39,150.56 H353.39 M350.39,165.6 H353.39" stroke="#111" stroke-width="1.0" fill="none"/><path d="M347.14,158.08 H356.64 M347.14,156.58 V159.58 M356.64,156.58 V159.58" stroke="#111" stroke-width="1.0" fill="none"/>
<path d="M352.65,160.29 V175.97 M351.15,160.29 H354.15 M351.15,175.97 H354.15" stroke="#111" stroke-width="1.0" fill="none"/><path d="M348.77,168.13 H356.52 M348.77,166.63 V169.63 M356.52,166.63 V169.63" stroke="#111" stroke-width="1.0" fill="none"/>
<path d="M355.86,209.16 V232.71 M354.36,209.16 H357.36 M354.36,232.71 H357.36" stroke="#111" stroke-width="1.0" fill="none"/><path d="M351.84,220.94 H359.88 M351.84,219.44 V222.44 M359.88,219.44 V222.44" stroke="#111" stroke-width="1.0" fill="none"/>
<path d="M359.32,136.22 V157.67 M357.82,136.22 H360.82 M357.82,157.67 H360.82" stroke="#111" stroke-width="1.0" fill="none"/><path d="M353,146.94 H365.65 M353,145.44 V148.44 M365.65,145.44 V148.44" stroke="#111" stroke-width="1.0" fill="none"/>
<path d="M337.14,139.14 V148.07 M335.64,139.14 H338.64 M335.64,148.07 H338.64" stroke="#111" stroke-width="1.0" fill="none"/><path d="M332.64,143.6 H341.63 M332.64,142.1 V145.1 M341.63,142.1 V145.1" stroke="#111" stroke-width="1.0" fill="none"/>
<path d="M311.97,113.7 V122.9 M310.47,113.7 H313.47 M310.47,122.9 H313.47" stroke="#111" stroke-width="1.0" fill="none"/><path d="M306.86,118.3 H317.08 M306.86,116.8 V119.8 M317.08,116.8 V119.8" stroke="#111" stroke-width="1.0" fill="none"/>
<path d="M346.78,160.08 V174.65 M345.28,160.08 H348.28 M345.28,174.65 H348.28" stroke="#111" stroke-width="1.0" fill="none"/><path d="M342.93,167.36 H350.64 M342.93,165.86 V168.86 M350.64,165.86 V168.86" stroke="#111" stroke-width="1.0" fill="none"/>
<path d="M374.04,150.95 V171.21 M372.54,150.95 H375.54 M372.54,171.21 H375.54" stroke="#111" stroke-width="1.0" fill="none"/><path d="M370.52,161.08 H377.57 M370.52,159.58 V162.58 M377.57,159.58 V162.58" stroke="#111" stroke-width="1.0" fill="none"/>
<path d="M321.98,104.45 V112.91 M320.48,104.45 H323.48 M320.48,112.91 H323.48" stroke="#111" stroke-width="1.0" fill="none"/><path d="M318.85,108.68 H325.11 M318.85,107.18 V110.18 M325.11,107.18 V110.18" stroke="#111" stroke-width="1.0" fill="none"/>
<path d="M389.76,165.68 V188.26 M388.26,165.68 H391.26 M388.26,188.26 H391.26" stroke="#111" stroke-width="1.0" fill="none"/><path d="M384.92,176.97 H394.6 M384.92,175.47 V178.47 M394.6,175.47 V178.47" stroke="#111" stroke-width="1.0" fill="none"/>
<path d="M356.13,142.61 V164.23 M354.63,142.61 H357.63 M354.63,164.23 H357.63" stroke="#111" stroke-width="1.0" fill="none"/><path d="M353.54,153.42 H358.71 M353.54,151.92 V154.92 M358.71,151.92 V154.92" stroke="#111" stroke-width="1.0" fill="none"/>
<path d="M391.04,166.16 V180.05 M389.54,166.16 H392.54 M389.54,180.05 H392.54" stroke="#111" stroke-width="1.0" fill="none"/><path d="M384.73,173.1 H397.36 M384.73,171.6 V174.6 M397.36,171.6 V174.6" stroke="#111" stroke-width="1.0" fill="none"/>
<path d="M364.43,225.87 V242.77 M362.93,225.87 H365.93 M362.93,242.77 H365.93" stroke="#111" stroke-width="1.0" fill="none"/><path d="M358.76,234.32 H370.11 M358.76,232.82 V235.82 M370.11,232.82 V235.82" stroke="#111" stroke-width="1.0" fill="none"/>
<path d="M330.58,153.59 V179 M329.08,153.59 H332.08 M329.08,179 H332.08" stroke="#111" stroke-width="1.0" fill="none"/><path d="M324.46,166.3 H336.71 M324.46,164.8 V167.8 M336.71,164.8 V167.8" stroke="#111" stroke-width="1.0" fill="none"/>
<path d="M301.58,100.49 V109.36 M300.08,100.49 H303.08 M300.08,109.36 H303.08" stroke="#111" stroke-width="1.0" fill="none"/><path d="M298.69,104.93 H304.47 M298.69,103.43 V106.43 M304.47,103.43 V106.43" stroke="#111" stroke-width="1.0" fill="none"/>
<path d="M368.84,170.42 V186.34 M367.34,170.42 H370.34 M367.34,186.34 H370.34" stroke="#111" stroke-width="1.0" fill="none"/><path d="M364.11,178.38 H373.57 M364.11,176.88 V179.88 M373.57,176.88 V179.88" stroke="#111" stroke-width="1.0" fill="none"/>
<path d="M349.11,211.56 V227.35 M347.61,211.56 H350.61 M347.61,227.35 H350.61" stroke="#111" stroke-width="1.0" fill="none"/><path d="M345.45,219.45 H352.77 M345.45,217.95 V220.95 M352.77,217.95 V220.95" stroke="#111" stroke-width="1.0" fill="none"/>
<path d="M347.77,125.69 V143.52 M346.27,125.69 H349.27 M346.27,143.52 H349.27" stroke="#111" stroke-width="1.0" fill="none"/><path d="M345.23,134.6 H350.3 M345.23,133.1 V136.1 M350.3,133.1 V136.1" stroke="#111" stroke-width="1.0" fill="none"/>
<path d="M359.03,155.14 V167.03 M357.53,155.14 H360.53 M357.53,167.03 H360.53" stroke="#111" stroke-width="1.0" fill="none"/><path d="M355.08,161.08 H362.98 M355.08,159.58 V162.58 M362.98,159.58 V162.58" stroke="#111" stroke-width="1.0" fill="none"/>
<path d="M358.44,192.06 V210.47 M356.94,192.06 H359.94 M356.94,210.47 H359.94" stroke="#111" stroke-width="1.0" fill="none"/><path d="M355.35,201.27 H361.52 M355.35,199.77 V202.77 M361.52,199.77 V202.77" stroke="#111" stroke-width="1.0" fill="none"/>
<path d="M372.42,177.97 V193.13 M370.92,177.97 H373.92 M370.92,193.13 H373.92" stroke="#111" stroke-width="1.0" fill="none"/><path d="M367.77,185.55 H377.08 M367.77,184.05 V187.05 M377.08,184.05 V187.05" stroke="#111" stroke-width="1.0" fill="none"/>
<path d="M359.67,132.52 V151.79 M358.17,132.52 H361.17 M358.17,151.79 H361.17" stroke="#111" stroke-width="1.0" fill="none"/><path d="M354.02,142.15 H365.33 M354.02,140.65 V143.65 M365.33,140.65 V143.65" stroke="#111" stroke-width="1.0" fill="none"/>
<path d="M311.72,88.78 V100.5 M310.22,88.78 H313.22 M310.22,100.5 H313.22" stroke="#111" stroke-width="1.0" fill="none"/><path d="M306.77,94.64 H316.66 M306.77,93.14 V96.14 M316.66,93.14 V96.14" stroke="#111" stroke-width="1.0" fill="none"/>
<path d="M376.88,182.07 V201.53 M375.38,182.07 H378.38 M375.38,201.53 H378.38" stroke="#111" stroke-width="1.0" fill="none"/><path d="M370.73,191.8 H383.02 M370.73,190.3 V193.3 M383.02,190.3 V193.3" stroke="#111" stroke-width="1.0" fill="none"/>
<path d="M377.01,206.36 V214.73 M375.51,206.36 H378.51 M375.51,214.73 H378.51" stroke="#111" stroke-width="1.0" fill="none"/><path d="M373.75,210.54 H380.28 M373.75,209.04 V212.04 M380.28,209.04 V212.04" stroke="#111" stroke-width="1.0" fill="none"/>
<path d="M335.48,157.06 V177.04 M333.98,157.06 H336.98 M333.98,177.04 H336.98" stroke="#111" stroke-width="1.0" fill="none"/><path d="M330.65,167.05 H340.31 M330.65,165.55 V168.55 M340.31,165.55 V168.55" stroke="#111" stroke-width="1.0" fill="none"/>
<path d="M326.32,129.85 V149.1 M324.82,129.85 H327.82 M324.82,149.1 H327.82" stroke="#111" stroke-width="1.0" fill="none"/><path d="M322.5,139.48 H330.15 M322.5,137.98 V140.98 M330.15,137.98 V140.98" stroke="#111" stroke-width="1.0" fill="none"/>
<path d="M364.46,166.35 V188.95 M362.96,166.35 H365.96 M362.96,188.95 H365.96" stroke="#111" stroke-width="1.0" fill="none"/><path d="M360.67,177.65 H368.25 M360.67,176.15 V179.15 M368.25,176.15 V179.15" stroke="#111" stroke-width="1.0" fill="none"/>
<path d="M367.62,205.23 V225.85 M366.12,205.23 H369.12 M366.12,225.85 H369.12" stroke="#111" stroke-width="1.0" fill="none"/><path d="M361.74,215.54 H373.5 M361.74,214.04 V217.04 M373.5,214.04 V217.04" stroke="#111" stroke-width="1.0" fill="none"/>
<path d="M354.09,218.13 V240.32 M352.59,218.13 H355.59 M352.59,240.32 H355.59" stroke="#111" stroke-width="1.0" fill="none"/><path d="M347.92,229.23 H360.26 M347.92,227.73 V230.73 M360.26,227.73 V230.73" stroke="#111" stroke-width="1.0" fill="none"/>
<path d="M370.25,197.32 V211.78 M368.75,197.32 H371.75 M368.75,211.78 H371.75" stroke="#111" stroke-width="1.0" fill="none"/><path d="M365.73,204.55 H374.78 M365.73,203.05 V206.05 M374.78,203.05 V206.05" stroke="#111" stroke-width="1.0" fill="none"/>
<path d="M332.69,169.52 V183.27 M331.19,169.52 H334.19 M331.19,183.27 H334.19" stroke="#111" stroke-width="1.0" fill="none"/><path d="M327.78,176.39 H337.6 M327.78,174.89 V177.89 M337.6,174.89 V177.89" stroke="#111" stroke-width="1.0" fill="none"/>
<path d="M396.98,174.78 V196.96 M395.48,174.78 H398.48 M395.48,196.96 H398.48" stroke="#111" stroke-width="1.0" fill="none"/><path d="M390.79,185.87 H403.17 M390.79,184.37 V187.37 M403.17,184.37 V187.37" stroke="#111" stroke-width="1.0" fill="none"/>
<path d="M322.39,127.56 V138.84 M320.89,127.56 H323.89 M320.89,138.84 H323.89" stroke="#111" stroke-width="1.0" fill="none"/><path d="M319.19,133.2 H325.6 M319.19,131.7 V134.7 M325.6,131.7 V134.7" stroke="#111" stroke-width="1.0" fill="none"/>
<path d="M343.91,162.73 V179.24 M342.41,162.73 H345.41 M342.41,179.24 H345.41" stroke="#111" stroke-width="1.0" fill="none"/><path d="M338.36,170.98 H349.47 M338.36,169.48 V172.48 M349.47,169.48 V172.48" stroke="#111" stroke-width="1.0" fill="none"/>
<path d="M331.42,112.03 V133.89 M329.92,112.03 H332.92 M329.92,133.89 H332.92" stroke="#111" stroke-width="1.0" fill="none"/><path d="M327.53,122.96 H335.31 M327.53,121.46 V124.46 M335.31,121.46 V124.46" stroke="#111" stroke-width="1.0" fill="none"/>
<path d="M342.91,173.13 V189.76 M341.41,173.13 H344.41 M341.41,189.76 H344.41" stroke="#111" stroke-width="1.0" fill="none"/><path d="M336.99,181.44 H348.82 M336.99,179.94 V182.94 M348.82,179.94 V182.94" stroke="#111" stroke-width="1.0" fill="none"/>
<path d="M319.16,127.45 V147.48 M317.66,127.45 H320.66 M317.66,147.48 H320.66" stroke="#111" stroke-width="1.0" fill="none"/><path d="M314.69,137.47 H323.63 M314.69,135.97 V138.97 M323.63,135.97 V138.97" stroke="#111" stroke-width="1.0" fill="none"/>
<path d="M334.21,160.7 V182.5 M332.71,160.7 H335.71 M332.71,182.5 H335.71" stroke="#111" stroke-width="1.0" fill="none"/><path d="M328.73,171.6 H339.7 M328.73,170.1 V173.1 M339.7,170.1 V173.1" stroke="#111" stroke-width="1.0" fill="none"/>
<path d="M382.09,178.65 V187.09 M380.59,178.65 H383.59 M380.59,187.09 H383.59" stroke="#111" stroke-width="1.0" fill="none"/><path d="M375.83,182.87 H388.36 M375.83,181.37 V184.37 M388.36,181.37 V184.37" stroke="#111" stroke-width="1.0" fill="none"/>
<path d="M379.3,222.64 V244.35 M377.8,222.64 H380.8 M377.8,244.35 H380.8" stroke="#111" stroke-width="1.0" fill="none"/><path d="M374.43,233.49 H384.18 M374.43,231.99 V234.99 M384.18,231.99 V234.99" stroke="#111" stroke-width="1.0" fill="none"/>
<path d="M332.39,102.07 V117.03 M330.89,102.07 H333.89 M330.89,117.03 H333.89" stroke="#111" stroke-width="1.0" fill="none"/><path d="M327.76,109.55 H337.02 M327.76,108.05 V111.05 M337.02,108.05 V111.05" stroke="#111" stroke-width="1.0" fill="none"/>
<path d="M377.12,192.02 V216.38 M375.62,192.02 H378.62 M375.62,216.38 H378.62" stroke="#111" stroke-width="1.0" fill="none"/><path d="M372.95,204.2 H381.29 M372.95,202.7 V205.7 M381.29,202.7 V205.7" stroke="#111" stroke-width="1.0" fill="none"/>
<path d="M379.42,196.1 V204.89 M377.92,196.1 H380.92 M377.92,204.89 H380.92" stroke="#111" stroke-width="1.0" fill="none"/><path d="M374.7,200.49 H384.13 M374.7,198.99 V201.99 M384.13,198.99 V201.99" stroke="#111" stroke-width="1.0" fill="none"/>
<path d="M389.55,176.89 V185.86 M388.05,176.89 H391.05 M388.05,185.86 H391.05" stroke="#111" stroke-width="1.0" fill="none"/><path d="M384.34,181.37 H394.77 M384.34,179.87 V182.87 M394.77,179.87 V182.87" stroke="#111" stroke-width="1.0" fill="none"/>
<path d="M343.06,145.41 V153.78 M341.56,145.41 H344.56 M341.56,153.78 H344.56" stroke="#111" stroke-width="1.0" fill="none"/><path d="M339.68,149.59 H346.45 M339.68,148.09 V151.09 M346.45,148.09 V151.09" stroke="#111" stroke-width="1.0" fill="none"/>
<path d="M337.71,136.01 V160.64 M336.21,136.01 H339.21 M336.21,160.64 H339.21" stroke="#111" stroke-width="1.0" fill="none"/><path d="M335.19,148.32 H340.22 M335.19,146.82 V149.82 M340.22,146.82 V149.82" stroke="#111" stroke-width="1.0" fill="none"/>
<path d="M388.62,151.52 V166.08 M387.12,151.52 H390.12 M387.12,166.08 H390.12" stroke="#111" stroke-width="1.0" fill="none"/><path d="M386.06,158.8 H391.18 M386.06,157.3 V160.3 M391.18,157.3 V160.3" stroke="#111" stroke-width="1.0" fill="none"/>
<path d="M350.76,146.84 V157.96 M349.26,146.84 H352.26 M349.26,157.96 H352.26" stroke="#111" stroke-width="1.0" fill="none"/><path d="M347.57,152.4 H353.95 M347.57,150.9 V153.9 M353.95,150.9 V153.9" stroke="#111" stroke-width="1.0" fill="none"/>
<path d="M366.37,142.76 V162.95 M364.87,142.76 H367.87 M364.87,162.95 H367.87" stroke="#111" stroke-width="1.0" fill="none"/><path d="M363.48,152.85 H369.25 M363.48,151.35 V154.35 M369.25,151.35 V154.35" stroke="#111" stroke-width="1.0" fill="none"/>
<path d="M389.3,212.97 V236.81 M387.8,212.97 H390.8 M387.8,236.81 H390.8" stroke="#111" stroke-width="1.0" fill="none"/><path d="M384.62,224.89 H393.98 M384.62,223.39 V226.39 M393.98,223.39 V226.39" stroke="#111" stroke-width="1.0" fill="none"/>
<path d="M343.4,167.83 V183.83 M341.9,167.83 H344.9 M341.9,183.83 H344.9" stroke="#111" stroke-width="1.0" fill="none"/><path d="M337.7,175.83 H349.1 M337.7,174.33 V177.33 M349.1,174.33 V177.33" stroke="#111" stroke-width="1.0" fill="none"/>
<path d="M331.39,107.25 V129.95 M329.89,107.25 H332.89 M329.89,129.95 H332.89" stroke="#111" stroke-width="1.0" fill="none"/><path d="M327.91,118.6 H334.87 M327.91,117.1 V120.1 M334.87,117.1 V120.1" stroke="#111" stroke-width="1.0" fill="none"/>
<path d="M367.94,221.99 V237.99 M366.44,221.99 H369.44 M366.44,237.99 H369.44" stroke="#111" stroke-width="1.0" fill="none"/><path d="M364.38,229.99 H371.51 M364.38,228.49 V231.49 M371.51,228.49 V231.49" stroke="#111" stroke-width="1.0" fill="none"/>
<path d="M353.77,118.25 V140.71 M352.27,118.25 H355.27 M352.27,140.71 H355.27" stroke="#111" stroke-width="1.0" fill="none"/><path d="M347.28,129.48 H360.26 M347.28,127.98 V130.98 M360.26,127.98 V130.98" stroke="#111" stroke-width="1.0" fill="none"/>
<path d="M328.04,142.67 V156 M326.54,142.67 H329.54 M326.54,156 H329.54" stroke="#111" stroke-width="1.0" fill="none"/><path d="M324.4,149.33 H331.68 M324.4,147.83 V150.83 M331.68,147.83 V150.83" stroke="#111" stroke-width="1.0" fill="none"/>
<path d="M358.62,176.12 V184.83 M357.12,176.12 H360.12 M357.12,184.83 H360.12" stroke="#111" stroke-width="1.0" fill="none"/><path d="M353.53,180.48 H363.71 M353.53,178.98 V181.98 M363.71,178.98 V181.98" stroke="#111" stroke-width="1.0" fill="none"/>
<path d="M374.21,236.58 V251.2 M372.71,236.58 H375.71 M372.71,251.2 H375.71" stroke="#111" stroke-width="1.0" fill="none"/><path d="M369.62,243.89 H378.79 M369.62,242.39 V245.39 M378.79,242.39 V245.39" stroke="#111" stroke-width="1.0" fill="none"/>
<path d="M338.01,121.39 V137.72 M336.51,121.39 H339.51 M336.51,137.72 H339.51" stroke="#111" stroke-width="1.0" fill="none"/><path d="M333.28,129.55 H342.73 M333.28,128.05 V131.05 M342.73,128.05 V131.05" stroke="#111" stroke-width="1.0" fill="none"/>
<path d="M352.95,177.07 V186.69 M351.45,177.07 H354.45 M351.45,186.69 H354.45" stroke="#111" stroke-width="1.0" fill="none"/><path d="M346.67,181.88 H359.22 M346.67,180.38 V183.38 M359.22,180.38 V183.38" stroke="#111" stroke-width="1.0" fill="none"/>
<path d="M338.11,166.29 V184.73 M336.61,166.29 H339.61 M336.61,184.73 H339.61" stroke="#111" stroke-width="1.0" fill="none"/><path d="M334.7,175.51 H341.52 M334.7,174.01 V177.01 M341.52,174.01 V177.01" stroke="#111" stroke-width="1.0" fill="none"/>
<path d="M363.31,146.26 V157.77 M361.81,146.26 H364.81 M361.81,157.77 H364.81" stroke="#111" stroke-width="1.0" fill="none"/><path d="M357.32,152.01 H369.3 M357.32,150.51 V153.51 M369.3,150.51 V153.51" stroke="#111" stroke-width="1.0" fill="none"/>
<path d="M374.07,217.66 V231.71 M372.57,217.66 H375.57 M372.57,231.71 H375.57" stroke="#111" stroke-width="1.0" fill="none"/><path d="M369.43,224.69 H378.71 M369.43,223.19 V226.19 M378.71,223.19 V226.19" stroke="#111" stroke-width="1.0" fill="none"/>
<path d="M320.98,123.24 V131.94 M319.48,123.24 H322.48 M319.48,131.94 H322.48" stroke="#111" stroke-width="1.0" fill="none"/><path d="M316.25,127.59 H325.7 M316.25,126.09 V129.09 M325.7,126.09 V129.09" stroke="#111" stroke-width="1.0" fill="none"/>
<path d="M375.1,165.37 V190.56 M373.6,165.37 H376.6 M373.6,190.56 H376.6" stroke="#111" stroke-width="1.0" fill="none"/><path d="M371.17,177.96 H379.03 M371.17,176.46 V179.46 M379.03,176.46 V179.46" stroke="#111" stroke-width="1.0" fill="none"/>
<path d="M347.92,169.05 V192.64 M346.42,169.05 H349.42 M346.42,192.64 H349.42" stroke="#111" stroke-width="1.0" fill="none"/><path d="M344.97,180.85 H350.87 M344.97,179.35 V182.35 M350.87,179.35 V182.35" stroke="#111" stroke-width="1.0" fill="none"/>
<path d="M379.01,165.94 V187.46 M377.51,165.94 H380.51 M377.51,187.46 H380.51" stroke="#111" stroke-width="1.0" fill="none"/><path d="M373.65,176.7 H384.37 M373.65,175.2 V178.2 M384.37,175.2 V178.2" stroke="#111" stroke-width="1.0" fill="none"/>
<path d="M340.52,156.53 V180.65 M339.02,156.53 H342.02 M339.02,180.65 H342.02" stroke="#111" stroke-width="1.0" fill="none"/><path d="M334.06,168.59 H346.98 M334.06,167.09 V170.09 M346.98,167.09 V170.09" stroke="#111" stroke-width="1.0" fill="none"/>
<path d="M376.55,153.36 V162.37 M375.05,153.36 H378.05 M375.05,162.37 H378.05" stroke="#111" stroke-width="1.0" fill="none"/><path d="M371.86,157.86 H381.24 M371.86,156.36 V159.36 M381.24,156.36 V159.36" stroke="#111" stroke-width="1.0" fill="none"/>
<path d="M337.72,114.36 V135.77 M336.22,114.36 H339.22 M336.22,135.77 H339.22" stroke="#111" stroke-width="1.0" fill="none"/><path d="M334.95,125.07 H340.5 M334.95,123.57 V126.57 M340.5,123.57 V126.57" stroke="#111" stroke-width="1.0" fill="none"/>
<path d="M313.44,89.13 V113.98 M311.94,89.13 H314.94 M311.94,113.98 H314.94" stroke="#111" stroke-width="1.0" fill="none"/><path d="M308.94,101.55 H317.94 M308.94,100.05 V103.05 M317.94,100.05 V103.05" stroke="#111" stroke-width="1.0" fill="none"/>
<path d="M343.53,148.45 V174.27 M342.03,148.45 H345.03 M342.03,174.27 H345.03" stroke="#111" stroke-width="1.0" fill="none"/><path d="M337.78,161.36 H349.28 M337.78,159.86 V162.86 M349.28,159.86 V162.86" stroke="#111" stroke-width="1.0" fill="none"/>
<path d="M382.72,224.91 V233.13 M381.22,224.91 H384.22 M381.22,233.13 H384.22" stroke="#111" stroke-width="1.0" fill="none"/><path d="M377.76,229.02 H387.68 M377.76,227.52 V230.52 M387.68,227.52 V230.52" stroke="#111" stroke-width="1.0" fill="none"/>
<path d="M298.52,89.48 V108.35 M297.02,89.48 H300.02 M297.02,108.35 H300.02" stroke="#111" stroke-width="1.0" fill="none"/><path d="M292.32,98.92 H304.72 M292.32,97.42 V100.42 M304.72,97.42 V100.42" stroke="#111" stroke-width="1.0" fill="none"/>
<path d="M342.83,126.87 V138.06 M341.33,126.87 H344.33 M341.33,138.06 H344.33" stroke="#111" stroke-width="1.0" fill="none"/><path d="M339.09,132.47 H346.58 M339.09,130.97 V133.97 M346.58,130.97 V133.97" stroke="#111" stroke-width="1.0" fill="none"/>
<path d="M355.64,159.45 V185.03 M354.14,159.45 H357.14 M354.14,185.03 H357.14" stroke="#111" stroke-width="1.0" fill="none"/><path d="M351.04,172.24 H360.23 M351.04,170.74 V173.74 M360.23,170.74 V173.74" stroke="#111" stroke-width="1.0" fill="none"/>
<path d="M366.35,155.86 V178.2 M364.85,155.86 H367.85 M364.85,178.2 H367.85" stroke="#111" stroke-width="1.0" fill="none"/><path d="M363.1,167.03 H369.6 M363.1,165.53 V168.53 M369.6,165.53 V168.53" stroke="#111" stroke-width="1.0" fill="none"/>
<path d="M331.84,121.16 V135.35 M330.34,121.16 H333.34 M330.34,135.35 H333.34" stroke="#111" stroke-width="1.0" fill="none"/><path d="M328.68,128.25 H335.01 M328.68,126.75 V129.75 M335.01,126.75 V129.75" stroke="#111" stroke-width="1.0" fill="none"/>
<path d="M385.76,189.34 V211.58 M384.26,189.34 H387.26 M384.26,211.58 H387.26" stroke="#111" stroke-width="1.0" fill="none"/><path d="M380.39,200.46 H391.12 M380.39,198.96 V201.96 M391.12,198.96 V201.96" stroke="#111" stroke-width="1.0" fill="none"/>
<path d="M364.12,161.36 V185.32 M362.62,161.36 H365.62 M362.62,185.32 H365.62" stroke="#111" stroke-width="1.0" fill="none"/><path d="M358.66,173.34 H369.58 M358.66,171.84 V174.84 M369.58,171.84 V174.84" stroke="#111" stroke-width="1.0" fill="none"/>
<path d="M386.03,184.52 V207.01 M384.53,184.52 H387.53 M384.53,207.01 H387.53" stroke="#111" stroke-width="1.0" fill="none"/><path d="M379.59,195.76 H392.46 M379.59,194.26 V197.26 M392.46,194.26 V197.26" stroke="#111" stroke-width="1.0" fill="none"/>
<path d="M396.75,198.06 V211.82 M395.25,198.06 H398.25 M395.25,211.82 H398.25" stroke="#111" stroke-width="1.0" fill="none"/><path d="M391.28,204.94 H402.21 M391.28,203.44 V206.44 M402.21,203.44 V206.44" stroke="#111" stroke-width="1.0" fill="none"/>
<path d="M354.08,181.26 V201.57 M352.58,181.26 H355.58 M352.58,201.57 H355.58" stroke="#111" stroke-width="1.0" fill="none"/><path d="M351.55,191.42 H356.61 M351.55,189.92 V192.92 M356.61,189.92 V192.92" stroke="#111" stroke-width="1.0" fill="none"/>
<path d="M348.51,137.19 V161.02 M347.01,137.19 H350.01 M347.01,161.02 H350.01" stroke="#111" stroke-width="1.0" fill="none"/><path d="M344.8,149.1 H352.23 M344.8,147.6 V150.6 M352.23,147.6 V150.6" stroke="#111" stroke-width="1.0" fill="none"/>
<path d="M348.5,213.46 V233.12 M347,213.46 H350 M347,233.12 H350" stroke="#111" stroke-width="1.0" fill="none"/><path d="M344.45,223.29 H352.55 M344.45,221.79 V224.79 M352.55,221.79 V224.79" stroke="#111" stroke-width="1.0" fill="none"/>
<path d="M400.48,195.49 V204.12 M398.98,195.49 H401.98 M398.98,204.12 H401.98" stroke="#111" stroke-width="1.0" fill="none"/><path d="M395.36,199.81 H405.6 M395.36,198.31 V201.31 M405.6,198.31 V201.31" stroke="#111" stroke-width="1.0" fill="none"/>
<path d="M365.76,180.09 V191.69 M364.26,180.09 H367.26 M364.26,191.69 H367.26" stroke="#111" stroke-width="1.0" fill="none"/><path d="M362.18,185.89 H369.34 M362.18,184.39 V187.39 M369.34,184.39 V187.39" stroke="#111" stroke-width="1.0" fill="none"/>
<path d="M341.42,184.99 V205.5 M339.92,184.99 H342.92 M339.92,205.5 H342.92" stroke="#111" stroke-width="1.0" fill="none"/><path d="M337.91,195.25 H344.93 M337.91,193.75 V196.75 M344.93,193.75 V196.75" stroke="#111" stroke-width="1.0" fill="none"/>
<path d="M338.04,181.14 V201.12 M336.54,181.14 H339.54 M336.54,201.12 H339.54" stroke="#111" stroke-width="1.0" fill="none"/><path d="M331.8,191.13 H344.28 M331.8,189.63 V192.63 M344.28,189.63 V192.63" stroke="#111" stroke-width="1.0" fill="none"/>
<path d="M357.85,125.45 V145.17 M356.35,125.45 H359.35 M356.35,145.17 H359.35" stroke="#111" stroke-width="1.0" fill="none"/><path d="M352.81,135.31 H362.88 M352.81,133.81 V136.81 M362.88,133.81 V136.81" stroke="#111" stroke-width="1.0" fill="none"/>
<path d="M296.73,90.07 V103.82 M295.23,90.07 H298.23 M295.23,103.82 H298.23" stroke="#111" stroke-width="1.0" fill="none"/><path d="M290.49,96.95 H302.97 M290.49,95.45 V98.45 M302.97,95.45 V98.45" stroke="#111" stroke-width="1.0" fill="none"/>
<path d="M326.84,109.93 V128.52 M325.34,109.93 H328.34 M325.34,128.52 H328.34" stroke="#111" stroke-width="1.0" fill="none"/><path d="M322.7,119.23 H330.98 M322.7,117.73 V120.73 M330.98,117.73 V120.73" stroke="#111" stroke-width="1.0" fill="none"/>
<path d="M366.11,199.76 V209.87 M364.61,199.76 H367.61 M364.61,209.87 H367.61" stroke="#111" stroke-width="1.0" fill="none"/><path d="M362.6,204.81 H369.63 M362.6,203.31 V206.31 M369.63,203.31 V206.31" stroke="#111" stroke-width="1.0" fill="none"/>
<path d="M399.16,185.64 V203.68 M397.66,185.64 H400.66 M397.66,203.68 H400.66" stroke="#111" stroke-width="1.0" fill="none"/><path d="M394.22,194.66 H404.09 M394.22,193.16 V196.16 M404.09,193.16 V196.16" stroke="#111" stroke-width="1.0" fill="none"/>
<path d="M321.29,113.59 V133.17 M319.79,113.59 H322.79 M319.79,133.17 H322.79" stroke="#111" stroke-width="1.0" fill="none"/><path d="M315.02,123.38 H327.56 M315.02,121.88 V124.88 M327.56,121.88 V124.88" stroke="#111" stroke-width="1.0" fill="none"/>
<path d="M383.69,158.79 V166.99 M382.19,158.79 H385.19 M382.19,166.99 H385.19" stroke="#111" stroke-width="1.0" fill="none"/><path d="M380.37,162.89 H387 M380.37,161.39 V164.39 M387,161.39 V164.39" stroke="#111" stroke-width="1.0" fill="none"/>
<path d="M349.46,167.56 V186.84 M347.96,167.56 H350.96 M347.96,186.84 H350.96" stroke="#111" stroke-width="1.0" fill="none"/><path d="M344.39,177.2 H354.54 M344.39,175.7 V178.7 M354.54,175.7 V178.7" stroke="#111" stroke-width="1.0" fill="none"/>
<path d="M328.46,129.64 V138.41 M326.96,129.64 H329.96 M326.96,138.41 H329.96" stroke="#111" stroke-width="1.0" fill="none"/><path d="M324.02,134.02 H332.9 M324.02,132.52 V135.52 M332.9,132.52 V135.52" stroke="#111" stroke-width="1.0" fill="none"/>
<path d="M392,205.47 V215.81 M390.5,205.47 H393.5 M390.5,215.81 H393.5" stroke="#111" stroke-width="1.0" fill="none"/><path d="M385.65,210.64 H398.34 M385.65,209.14 V212.14 M398.34,209.14 V212.14" stroke="#111" stroke-width="1.0" fill="none"/>
<path d="M347.85,154.51 V170.35 M346.35,154.51 H349.35 M346.35,170.35 H349.35" stroke="#111" stroke-width="1.0" fill="none"/><path d="M344.45,162.43 H351.25 M344.45,160.93 V163.93 M351.25,160.93 V163.93" stroke="#111" stroke-width="1.0" fill="none"/>
<path d="M395.08,164.98 V179.53 M393.58,164.98 H396.58 M393.58,179.53 H396.58" stroke="#111" stroke-width="1.0" fill="none"/><path d="M391.93,172.26 H398.23 M391.93,170.76 V173.76 M398.23,170.76 V173.76" stroke="#111" stroke-width="1.0" fill="none"/>
<path d="M334.31,137.54 V146.75 M332.81,137.54 H335.81 M332.81,146.75 H335.81" stroke="#111" stroke-width="1.0" fill="none"/><path d="M330.41,142.14 H338.22 M330.41,140.64 V143.64 M338.22,140.64 V143.64" stroke="#111" stroke-width="1.0" fill="none"/>
<path d="M377.6,169.09 V193.22 M376.1,169.09 H379.1 M376.1,193.22 H379.1" stroke="#111" stroke-width="1.0" fill="none"/><path d="M372.64,181.15 H382.56 M372.64,179.65 V182.65 M382.56,179.65 V182.65" stroke="#111" stroke-width="1.0" fill="none"/>
<path d="M353.19,171.33 V181.94 M351.69,171.33 H354.69 M351.69,181.94 H354.69" stroke="#111" stroke-width="1.0" fill="none"/><path d="M348.11,176.63 H358.28 M348.11,175.13 V178.13 M358.28,175.13 V178.13" stroke="#111" stroke-width="1.0" fill="none"/>
<path d="M343.54,136.88 V151.04 M342.04,136.88 H345.04 M342.04,151.04 H345.04" stroke="#111" stroke-width="1.0" fill="none"/><path d="M340.49,143.96 H346.6 M340.49,142.46 V145.46 M346.6,142.46 V145.46" stroke="#111" stroke-width="1.0" fill="none"/>
<path d="M346.43,200.2 V212.34 M344.93,200.2 H347.93 M344.93,212.34 H347.93" stroke="#111" stroke-width="1.0" fill="none"/><path d="M341.56,206.27 H351.3 M341.56,204.77 V207.77 M351.3,204.77 V207.77" stroke="#111" stroke-width="1.0" fill="none"/>
<path d="M389.14,154.24 V170.1 M387.64,154.24 H390.64 M387.64,170.1 H390.64" stroke="#111" stroke-width="1.0" fill="none"/><path d="M384.84,162.17 H393.44 M384.84,160.67 V163.67 M393.44,160.67 V163.67" stroke="#111" stroke-width="1.0" fill="none"/>
<path d="M345.39,186.27 V195.54 M343.89,186.27 H346.89 M343.89,195.54 H346.89" stroke="#111" stroke-width="1.0" fill="none"/><path d="M340.8,190.9 H349.98 M340.8,189.4 V192.4 M349.98,189.4 V192.4" stroke="#111" stroke-width="1.0" fill="none"/>
<path d="M350.64,163.33 V178.71 M349.14,163.33 H352.14 M349.14,178.71 H352.14" stroke="#111" stroke-width="1.0" fill="none"/><path d="M344.98,171.02 H356.31 M344.98,169.52 V172.52 M356.31,169.52 V172.52" stroke="#111" stroke-width="1.0" fill="none"/>
<path d="M323.37,110.87 V120.6 M321.87,110.87 H324.87 M321.87,120.6 H324.87" stroke="#111" stroke-width="1.0" fill="none"/><path d="M317.88,115.73 H328.86 M317.88,114.23 V117.23 M328.86,114.23 V117.23" stroke="#111" stroke-width="1.0" fill="none"/>
<rect x="337.26" y="168.85" width="5.7" height="5.7" fill="#119a3e" stroke="#000" stroke-width="1"/>
<rect x="341.83" y="192.62" width="5.7" height="5.7" fill="#119a3e" stroke="#000" stroke-width="1"/>
<rect x="370.28" y="151.35" width="5.7" height="5.7" fill="#119a3e" stroke="#000" stroke-width="1"/>
<rect x="338.42" y="183.05" width="5.7" height="5.7" fill="#119a3e" stroke="#000" stroke-width="1"/>
<rect x="377.99" y="160.59" width="5.7" height="5.7" fill="#119a3e" stroke="#000" stroke-width="1"/>
<rect x="315.22" y="103.3" width="5.7" height="5.7" fill="#119a3e" stroke="#000" stroke-width="1"/>
<rect x="337.95" y="149.9" width="5.7" height="5.7" fill="#119a3e" stroke="#000" stroke-width="1"/>
<rect x="373.07" y="193.75" width="5.7" height="5.7" fill="#119a3e" stroke="#000" stroke-width="1"/>
<rect x="370.75" y="165.92" width="5.7" height="5.7" fill="#119a3e" stroke="#000" stroke-width="1"/>
<rect x="345.33" y="141.38" width="5.7" height="5.7" fill="#119a3e" stroke="#000" stroke-width="1"/>
<rect x="351.92" y="160.68" width="5.7" height="5.7" fill="#119a3e" stroke="#000" stroke-width="1"/>
<rect x="365.33" y="159.89" width="5.7" height="5.7" fill="#119a3e" stroke="#000" stroke-width="1"/>
<rect x="367.21" y="144.1" width="5.7" height="5.7" fill="#119a3e" stroke="#000" stroke-width="1"/>
<rect x="382.41" y="189.24" width="5.7" height="5.7" fill="#119a3e" stroke="#000" stroke-width="1"/>
<rect x="371.75" y="199.13" width="5.7" height="5.7" fill="#119a3e" stroke="#000" stroke-width="1"/>
<rect x="349.1" y="145.48" width="5.7" height="5.7" fill="#119a3e" stroke="#000" stroke-width="1"/>
<rect x="367.84" y="188.41" width="5.7" height="5.7" fill="#119a3e" stroke="#000" stroke-width="1"/>
<rect x="378.55" y="168.63" width="5.7" height="5.7" fill="#119a3e" stroke="#000" stroke-width="1"/>
<rect x="353.66" y="193.26" width="5.7" height="5.7" fill="#119a3e" stroke="#000" stroke-width="1"/>
<rect x="394.79" y="177.42" width="5.7" height="5.7" fill="#119a3e" stroke="#000" stroke-width="1"/>
<rect x="366.86" y="199.06" width="5.7" height="5.7" fill="#119a3e" stroke="#000" stroke-width="1"/>
<rect x="384.16" y="184.1" width="5.7" height="5.7" fill="#119a3e" stroke="#000" stroke-width="1"/>
<rect x="332.05" y="110.98" width="5.7" height="5.7" fill="#119a3e" stroke="#000" stroke-width="1"/>
<rect x="352.57" y="153.88" width="5.7" height="5.7" fill="#119a3e" stroke="#000" stroke-width="1"/>
<rect x="358.27" y="154.19" width="5.7" height="5.7" fill="#119a3e" stroke="#000" stroke-width="1"/>
<rect x="308.81" y="111.02" width="5.7" height="5.7" fill="#119a3e" stroke="#000" stroke-width="1"/>
<rect x="351.01" y="196.59" width="5.7" height="5.7" fill="#119a3e" stroke="#000" stroke-width="1"/>
<rect x="360.63" y="177.7" width="5.7" height="5.7" fill="#119a3e" stroke="#000" stroke-width="1"/>
<rect x="338.53" y="126.69" width="5.7" height="5.7" fill="#119a3e" stroke="#000" stroke-width="1"/>
<rect x="373.18" y="182.82" width="5.7" height="5.7" fill="#119a3e" stroke="#000" stroke-width="1"/>
<rect x="355.02" y="234.96" width="5.7" height="5.7" fill="#119a3e" stroke="#000" stroke-width="1"/>
<rect x="360.95" y="141.23" width="5.7" height="5.7" fill="#119a3e" stroke="#000" stroke-width="1"/>
<rect x="308.1" y="107.13" width="5.7" height="5.7" fill="#119a3e" stroke="#000" stroke-width="1"/>
<rect x="335.56" y="159.27" width="5.7" height="5.7" fill="#119a3e" stroke="#000" stroke-width="1"/>
<rect x="390.53" y="179.09" width="5.7" height="5.7" fill="#119a3e" stroke="#000" stroke-width="1"/>
<rect x="383.75" y="216.86" width="5.7" height="5.7" fill="#119a3e" stroke="#000" stroke-width="1"/>
<rect x="365.11" y="154.96" width="5.7" height="5.7" fill="#119a3e" stroke="#000" stroke-width="1"/>
<rect x="360.55" y="160.32" width="5.7" height="5.7" fill="#119a3e" stroke="#000" stroke-width="1"/>
<rect x="347.21" y="207.02" width="5.7" height="5.7" fill="#119a3e" stroke="#000" stroke-width="1"/>
<rect x="348.78" y="182.52" width="5.7" height="5.7" fill="#119a3e" stroke="#000" stroke-width="1"/>
<rect x="368.66" y="178.06" width="5.7" height="5.7" fill="#119a3e" stroke="#000" stroke-width="1"/>
<rect x="390.99" y="212.29" width="5.7" height="5.7" fill="#119a3e" stroke="#000" stroke-width="1"/>
<rect x="325.08" y="111.5" width="5.7" height="5.7" fill="#119a3e" stroke="#000" stroke-width="1"/>
<rect x="356.35" y="232.62" width="5.7" height="5.7" fill="#119a3e" stroke="#000" stroke-width="1"/>
<rect x="326.06" y="122.7" width="5.7" height="5.7" fill="#119a3e" stroke="#000" stroke-width="1"/>
<rect x="335.18" y="116.73" width="5.7" height="5.7" fill="#119a3e" stroke="#000" stroke-width="1"/>
<rect x="369.61" y="156.39" width="5.7" height="5.7" fill="#119a3e" stroke="#000" stroke-width="1"/>
<rect x="368.65" y="170.21" width="5.7" height="5.7" fill="#119a3e" stroke="#000" stroke-width="1"/>
<rect x="329.7" y="131.64" width="5.7" height="5.7" fill="#119a3e" stroke="#000" stroke-width="1"/>
<rect x="314.62" y="112.54" width="5.7" height="5.7" fill="#119a3e" stroke="#000" stroke-width="1"/>
<rect x="372.68" y="168.13" width="5.7" height="5.7" fill="#119a3e" stroke="#000" stroke-width="1"/>
<rect x="306.18" y="96.23" width="5.7" height="5.7" fill="#119a3e" stroke="#000" stroke-width="1"/>
<rect x="359.75" y="197.5" width="5.7" height="5.7" fill="#119a3e" stroke="#000" stroke-width="1"/>
<rect x="313.91" y="94.07" width="5.7" height="5.7" fill="#119a3e" stroke="#000" stroke-width="1"/>
<rect x="357.79" y="193.45" width="5.7" height="5.7" fill="#119a3e" stroke="#000" stroke-width="1"/>
<rect x="378.25" y="189.75" width="5.7" height="5.7" fill="#119a3e" stroke="#000" stroke-width="1"/>
<rect x="393" y="188.22" width="5.7" height="5.7" fill="#119a3e" stroke="#000" stroke-width="1"/>
<rect x="378.62" y="202.52" width="5.7" height="5.7" fill="#119a3e" stroke="#000" stroke-width="1"/>
<rect x="356.96" y="169.44" width="5.7" height="5.7" fill="#119a3e" stroke="#000" stroke-width="1"/>
<rect x="370.14" y="146.08" width="5.7" height="5.7" fill="#119a3e" stroke="#000" stroke-width="1"/>
<rect x="381.83" y="175.26" width="5.7" height="5.7" fill="#119a3e" stroke="#000" stroke-width="1"/>
<rect x="336.53" y="154.83" width="5.7" height="5.7" fill="#119a3e" stroke="#000" stroke-width="1"/>
<rect x="379.84" y="184.49" width="5.7" height="5.7" fill="#119a3e" stroke="#000" stroke-width="1"/>
<rect x="385.25" y="164" width="5.7" height="5.7" fill="#119a3e" stroke="#000" stroke-width="1"/>
<rect x="343.41" y="151.54" width="5.7" height="5.7" fill="#119a3e" stroke="#000" stroke-width="1"/>
<rect x="333.27" y="154.12" width="5.7" height="5.7" fill="#119a3e" stroke="#000" stroke-width="1"/>
<rect x="389.29" y="192.33" width="5.7" height="5.7" fill="#119a3e" stroke="#000" stroke-width="1"/>
<rect x="371.84" y="215.64" width="5.7" height="5.7" fill="#119a3e" stroke="#000" stroke-width="1"/>
<rect x="363.06" y="189.25" width="5.7" height="5.7" fill="#119a3e" stroke="#000" stroke-width="1"/>
<rect x="341.58" y="197.56" width="5.7" height="5.7" fill="#119a3e" stroke="#000" stroke-width="1"/>
<rect x="303.38" y="93.94" width="5.7" height="5.7" fill="#119a3e" stroke="#000" stroke-width="1"/>
<rect x="387.59" y="188.72" width="5.7" height="5.7" fill="#119a3e" stroke="#000" stroke-width="1"/>
<rect x="329.14" y="159.6" width="5.7" height="5.7" fill="#119a3e" stroke="#000" stroke-width="1"/>
<rect x="322.99" y="126.62" width="5.7" height="5.7" fill="#119a3e" stroke="#000" stroke-width="1"/>
<rect x="344.14" y="184.72" width="5.7" height="5.7" fill="#119a3e" stroke="#000" stroke-width="1"/>
<rect x="332.01" y="136.33" width="5.7" height="5.7" fill="#119a3e" stroke="#000" stroke-width="1"/>
<rect x="365.07" y="180.18" width="5.7" height="5.7" fill="#119a3e" stroke="#000" stroke-width="1"/>
<rect x="388.07" y="218.4" width="5.7" height="5.7" fill="#119a3e" stroke="#000" stroke-width="1"/>
<rect x="355.52" y="164.14" width="5.7" height="5.7" fill="#119a3e" stroke="#000" stroke-width="1"/>
<rect x="390.9" y="183.88" width="5.7" height="5.7" fill="#119a3e" stroke="#000" stroke-width="1"/>
<rect x="359.25" y="164.21" width="5.7" height="5.7" fill="#119a3e" stroke="#000" stroke-width="1"/>
<rect x="321.2" y="140.34" width="5.7" height="5.7" fill="#119a3e" stroke="#000" stroke-width="1"/>
<rect x="350.82" y="132.18" width="5.7" height="5.7" fill="#119a3e" stroke="#000" stroke-width="1"/>
<rect x="322.99" y="149.06" width="5.7" height="5.7" fill="#119a3e" stroke="#000" stroke-width="1"/>
<rect x="343.5" y="136.53" width="5.7" height="5.7" fill="#119a3e" stroke="#000" stroke-width="1"/>
<rect x="376.22" y="164.96" width="5.7" height="5.7" fill="#119a3e" stroke="#000" stroke-width="1"/>
<rect x="353.93" y="184.93" width="5.7" height="5.7" fill="#119a3e" stroke="#000" stroke-width="1"/>
<rect x="358.38" y="182.35" width="5.7" height="5.7" fill="#119a3e" stroke="#000" stroke-width="1"/>
<rect x="359.56" y="146.05" width="5.7" height="5.7" fill="#119a3e" stroke="#000" stroke-width="1"/>
<rect x="362.46" y="194.14" width="5.7" height="5.7" fill="#119a3e" stroke="#000" stroke-width="1"/>
<rect x="391.82" y="197.02" width="5.7" height="5.7" fill="#119a3e" stroke="#000" stroke-width="1"/>
<rect x="306.19" y="111.83" width="5.7" height="5.7" fill="#119a3e" stroke="#000" stroke-width="1"/>
<rect x="349.86" y="139.7" width="5.7" height="5.7" fill="#119a3e" stroke="#000" stroke-width="1"/>
<rect x="357.82" y="187.98" width="5.7" height="5.7" fill="#119a3e" stroke="#000" stroke-width="1"/>
<rect x="335.16" y="179.33" width="5.7" height="5.7" fill="#119a3e" stroke="#000" stroke-width="1"/>
<rect x="327.87" y="135.35" width="5.7" height="5.7" fill="#119a3e" stroke="#000" stroke-width="1"/>
<rect x="347.37" y="135.02" width="5.7" height="5.7" fill="#119a3e" stroke="#000" stroke-width="1"/>
<rect x="328.95" y="143.91" width="5.7" height="5.7" fill="#119a3e" stroke="#000" stroke-width="1"/>
<rect x="356.01" y="174.61" width="5.7" height="5.7" fill="#119a3e" stroke="#000" stroke-width="1"/>
<rect x="313.48" y="106.75" width="5.7" height="5.7" fill="#119a3e" stroke="#000" stroke-width="1"/>
<rect x="338.09" y="136.05" width="5.7" height="5.7" fill="#119a3e" stroke="#000" stroke-width="1"/>
<rect x="346.72" y="192.63" width="5.7" height="5.7" fill="#119a3e" stroke="#000" stroke-width="1"/>
<rect x="367.91" y="192.45" width="5.7" height="5.7" fill="#119a3e" stroke="#000" stroke-width="1"/>
<rect x="380.29" y="194.04" width="5.7" height="5.7" fill="#119a3e" stroke="#000" stroke-width="1"/>
<rect x="365.89" y="237.3" width="5.7" height="5.7" fill="#119a3e" stroke="#000" stroke-width="1"/>
<rect x="314.83" y="131.28" width="5.7" height="5.7" fill="#119a3e" stroke="#000" stroke-width="1"/>
<rect x="334.93" y="129.53" width="5.7" height="5.7" fill="#119a3e" stroke="#000" stroke-width="1"/>
<rect x="326.92" y="156.38" width="5.7" height="5.7" fill="#119a3e" stroke="#000" stroke-width="1"/>
<rect x="354.94" y="137.02" width="5.7" height="5.7" fill="#119a3e" stroke="#000" stroke-width="1"/>
<rect x="323.78" y="105.96" width="5.7" height="5.7" fill="#119a3e" stroke="#000" stroke-width="1"/>
<rect x="348.28" y="188.4" width="5.7" height="5.7" fill="#119a3e" stroke="#000" stroke-width="1"/>
<rect x="360.81" y="239.96" width="5.7" height="5.7" fill="#119a3e" stroke="#000" stroke-width="1"/>
<rect x="358.64" y="212.3" width="5.7" height="5.7" fill="#119a3e" stroke="#000" stroke-width="1"/>
<rect x="333.26" y="149.13" width="5.7" height="5.7" fill="#119a3e" stroke="#000" stroke-width="1"/>
<rect x="357.89" y="206.53" width="5.7" height="5.7" fill="#119a3e" stroke="#000" stroke-width="1"/>
<rect x="329.16" y="151.6" width="5.7" height="5.7" fill="#119a3e" stroke="#000" stroke-width="1"/>
<rect x="380.88" y="163.03" width="5.7" height="5.7" fill="#119a3e" stroke="#000" stroke-width="1"/>
<rect x="342.82" y="155.8" width="5.7" height="5.7" fill="#119a3e" stroke="#000" stroke-width="1"/>
<rect x="324.74" y="139.35" width="5.7" height="5.7" fill="#119a3e" stroke="#000" stroke-width="1"/>
<rect x="383.96" y="168.48" width="5.7" height="5.7" fill="#119a3e" stroke="#000" stroke-width="1"/>
<rect x="349.04" y="155.23" width="5.7" height="5.7" fill="#119a3e" stroke="#000" stroke-width="1"/>
<rect x="349.8" y="165.28" width="5.7" height="5.7" fill="#119a3e" stroke="#000" stroke-width="1"/>
<rect x="353.01" y="218.09" width="5.7" height="5.7" fill="#119a3e" stroke="#000" stroke-width="1"/>
<rect x="356.47" y="144.09" width="5.7" height="5.7" fill="#119a3e" stroke="#000" stroke-width="1"/>
<rect x="334.29" y="140.75" width="5.7" height="5.7" fill="#119a3e" stroke="#000" stroke-width="1"/>
<rect x="309.12" y="115.45" width="5.7" height="5.7" fill="#119a3e" stroke="#000" stroke-width="1"/>
<rect x="391.83" y="175.26" width="5.7" height="5.7" fill="#119a3e" stroke="#000" stroke-width="1"/>
<rect x="343.93" y="164.51" width="5.7" height="5.7" fill="#119a3e" stroke="#000" stroke-width="1"/>
<rect x="371.19" y="158.23" width="5.7" height="5.7" fill="#119a3e" stroke="#000" stroke-width="1"/>
<rect x="319.13" y="105.83" width="5.7" height="5.7" fill="#119a3e" stroke="#000" stroke-width="1"/>
<rect x="386.91" y="174.12" width="5.7" height="5.7" fill="#119a3e" stroke="#000" stroke-width="1"/>
<rect x="353.28" y="150.57" width="5.7" height="5.7" fill="#119a3e" stroke="#000" stroke-width="1"/>
<rect x="388.19" y="170.25" width="5.7" height="5.7" fill="#119a3e" stroke="#000" stroke-width="1"/>
<rect x="361.58" y="231.47" width="5.7" height="5.7" fill="#119a3e" stroke="#000" stroke-width="1"/>
<rect x="327.73" y="163.45" width="5.7" height="5.7" fill="#119a3e" stroke="#000" stroke-width="1"/>
<rect x="298.73" y="102.08" width="5.7" height="5.7" fill="#119a3e" stroke="#000" stroke-width="1"/>
<rect x="365.99" y="175.53" width="5.7" height="5.7" fill="#119a3e" stroke="#000" stroke-width="1"/>
<rect x="344.92" y="131.75" width="5.7" height="5.7" fill="#119a3e" stroke="#000" stroke-width="1"/>
<rect x="356.18" y="158.23" width="5.7" height="5.7" fill="#119a3e" stroke="#000" stroke-width="1"/>
<rect x="355.59" y="198.42" width="5.7" height="5.7" fill="#119a3e" stroke="#000" stroke-width="1"/>
<rect x="369.57" y="182.7" width="5.7" height="5.7" fill="#119a3e" stroke="#000" stroke-width="1"/>
<rect x="356.82" y="139.3" width="5.7" height="5.7" fill="#119a3e" stroke="#000" stroke-width="1"/>
<rect x="308.87" y="91.79" width="5.7" height="5.7" fill="#119a3e" stroke="#000" stroke-width="1"/>
<rect x="374.03" y="188.95" width="5.7" height="5.7" fill="#119a3e" stroke="#000" stroke-width="1"/>
<rect x="374.16" y="207.69" width="5.7" height="5.7" fill="#119a3e" stroke="#000" stroke-width="1"/>
<rect x="332.63" y="164.2" width="5.7" height="5.7" fill="#119a3e" stroke="#000" stroke-width="1"/>
<rect x="323.47" y="136.63" width="5.7" height="5.7" fill="#119a3e" stroke="#000" stroke-width="1"/>
<rect x="361.61" y="174.8" width="5.7" height="5.7" fill="#119a3e" stroke="#000" stroke-width="1"/>
<rect x="351.24" y="226.38" width="5.7" height="5.7" fill="#119a3e" stroke="#000" stroke-width="1"/>
<rect x="329.84" y="173.54" width="5.7" height="5.7" fill="#119a3e" stroke="#000" stroke-width="1"/>
<rect x="394.13" y="183.02" width="5.7" height="5.7" fill="#119a3e" stroke="#000" stroke-width="1"/>
<rect x="319.54" y="130.35" width="5.7" height="5.7" fill="#119a3e" stroke="#000" stroke-width="1"/>
<rect x="341.06" y="168.13" width="5.7" height="5.7" fill="#119a3e" stroke="#000" stroke-width="1"/>
<rect x="328.57" y="120.11" width="5.7" height="5.7" fill="#119a3e" stroke="#000" stroke-width="1"/>
<rect x="340.06" y="178.59" width="5.7" height="5.7" fill="#119a3e" stroke="#000" stroke-width="1"/>
<rect x="316.31" y="134.62" width="5.7" height="5.7" fill="#119a3e" stroke="#000" stroke-width="1"/>
<rect x="331.36" y="168.75" width="5.7" height="5.7" fill="#119a3e" stroke="#000" stroke-width="1"/>
<rect x="379.24" y="180.02" width="5.7" height="5.7" fill="#119a3e" stroke="#000" stroke-width="1"/>
<rect x="376.45" y="230.64" width="5.7" height="5.7" fill="#119a3e" stroke="#000" stroke-width="1"/>
<rect x="329.54" y="106.7" width="5.7" height="5.7" fill="#119a3e" stroke="#000" stroke-width="1"/>
<rect x="376.57" y="197.64" width="5.7" height="5.7" fill="#119a3e" stroke="#000" stroke-width="1"/>
<rect x="386.7" y="178.52" width="5.7" height="5.7" fill="#119a3e" stroke="#000" stroke-width="1"/>
<rect x="340.21" y="146.74" width="5.7" height="5.7" fill="#119a3e" stroke="#000" stroke-width="1"/>
<rect x="334.86" y="145.47" width="5.7" height="5.7" fill="#119a3e" stroke="#000" stroke-width="1"/>
<rect x="385.77" y="155.95" width="5.7" height="5.7" fill="#119a3e" stroke="#000" stroke-width="1"/>
<rect x="347.91" y="149.55" width="5.7" height="5.7" fill="#119a3e" stroke="#000" stroke-width="1"/>
<rect x="363.52" y="150" width="5.7" height="5.7" fill="#119a3e" stroke="#000" stroke-width="1"/>
<rect x="340.55" y="172.98" width="5.7" height="5.7" fill="#119a3e" stroke="#000" stroke-width="1"/>
<rect x="328.54" y="115.75" width="5.7" height="5.7" fill="#119a3e" stroke="#000" stroke-width="1"/>
<rect x="365.09" y="227.14" width="5.7" height="5.7" fill="#119a3e" stroke="#000" stroke-width="1"/>
<rect x="350.92" y="126.63" width="5.7" height="5.7" fill="#119a3e" stroke="#000" stroke-width="1"/>
<rect x="325.19" y="146.48" width="5.7" height="5.7" fill="#119a3e" stroke="#000" stroke-width="1"/>
<rect x="355.77" y="177.63" width="5.7" height="5.7" fill="#119a3e" stroke="#000" stroke-width="1"/>
<rect x="371.36" y="241.04" width="5.7" height="5.7" fill="#119a3e" stroke="#000" stroke-width="1"/>
<rect x="335.16" y="126.7" width="5.7" height="5.7" fill="#119a3e" stroke="#000" stroke-width="1"/>
<rect x="350.1" y="179.03" width="5.7" height="5.7" fill="#119a3e" stroke="#000" stroke-width="1"/>
<rect x="335.26" y="172.66" width="5.7" height="5.7" fill="#119a3e" stroke="#000" stroke-width="1"/>
<rect x="360.46" y="149.16" width="5.7" height="5.7" fill="#119a3e" stroke="#000" stroke-width="1"/>
<rect x="371.22" y="221.84" width="5.7" height="5.7" fill="#119a3e" stroke="#000" stroke-width="1"/>
<rect x="318.13" y="124.74" width="5.7" height="5.7" fill="#119a3e" stroke="#000" stroke-width="1"/>
<rect x="372.25" y="175.11" width="5.7" height="5.7" fill="#119a3e" stroke="#000" stroke-width="1"/>
<rect x="345.07" y="178" width="5.7" height="5.7" fill="#119a3e" stroke="#000" stroke-width="1"/>
<rect x="376.16" y="173.85" width="5.7" height="5.7" fill="#119a3e" stroke="#000" stroke-width="1"/>
<rect x="337.67" y="165.74" width="5.7" height="5.7" fill="#119a3e" stroke="#000" stroke-width="1"/>
<rect x="373.7" y="155.01" width="5.7" height="5.7" fill="#119a3e" stroke="#000" stroke-width="1"/>
<rect x="334.87" y="122.22" width="5.7" height="5.7" fill="#119a3e" stroke="#000" stroke-width="1"/>
<rect x="310.59" y="98.7" width="5.7" height="5.7" fill="#119a3e" stroke="#000" stroke-width="1"/>
<rect x="340.68" y="158.51" width="5.7" height="5.7" fill="#119a3e" stroke="#000" stroke-width="1"/>
<rect x="379.87" y="226.17" width="5.7" height="5.7" fill="#119a3e" stroke="#000" stroke-width="1"/>
<rect x="295.67" y="96.07" width="5.7" height="5.7" fill="#119a3e" stroke="#000" stroke-width="1"/>
<rect x="339.98" y="129.62" width="5.7" height="5.7" fill="#119a3e" stroke="#000" stroke-width="1"/>
<rect x="352.79" y="169.39" width="5.7" height="5.7" fill="#119a3e" stroke="#000" stroke-width="1"/>
<rect x="363.5" y="164.18" width="5.7" height="5.7" fill="#119a3e" stroke="#000" stroke-width="1"/>
<rect x="328.99" y="125.4" width="5.7" height="5.7" fill="#119a3e" stroke="#000" stroke-width="1"/>
<rect x="382.91" y="197.61" width="5.7" height="5.7" fill="#119a3e" stroke="#000" stroke-width="1"/>
<rect x="361.27" y="170.49" width="5.7" height="5.7" fill="#119a3e" stroke="#000" stroke-width="1"/>
<rect x="383.18" y="192.91" width="5.7" height="5.7" fill="#119a3e" stroke="#000" stroke-width="1"/>
<rect x="351.23" y="188.57" width="5.7" height="5.7" fill="#119a3e" stroke="#000" stroke-width="1"/>
<rect x="345.66" y="146.25" width="5.7" height="5.7" fill="#119a3e" stroke="#000" stroke-width="1"/>
<rect x="362.91" y="183.04" width="5.7" height="5.7" fill="#119a3e" stroke="#000" stroke-width="1"/>
<rect x="338.57" y="192.4" width="5.7" height="5.7" fill="#119a3e" stroke="#000" stroke-width="1"/>
<rect x="335.19" y="188.28" width="5.7" height="5.7" fill="#119a3e" stroke="#000" stroke-width="1"/>
<rect x="355" y="132.46" width="5.7" height="5.7" fill="#119a3e" stroke="#000" stroke-width="1"/>
<rect x="293.88" y="94.1" width="5.7" height="5.7" fill="#119a3e" stroke="#000" stroke-width="1"/>
<rect x="323.99" y="116.38" width="5.7" height="5.7" fill="#119a3e" stroke="#000" stroke-width="1"/>
<rect x="363.26" y="201.96" width="5.7" height="5.7" fill="#119a3e" stroke="#000" stroke-width="1"/>
<rect x="396.31" y="191.81" width="5.7" height="5.7" fill="#119a3e" stroke="#000" stroke-width="1"/>
<rect x="318.44" y="120.53" width="5.7" height="5.7" fill="#119a3e" stroke="#000" stroke-width="1"/>
<rect x="380.84" y="160.04" width="5.7" height="5.7" fill="#119a3e" stroke="#000" stroke-width="1"/>
<rect x="346.61" y="174.35" width="5.7" height="5.7" fill="#119a3e" stroke="#000" stroke-width="1"/>
<rect x="325.61" y="131.17" width="5.7" height="5.7" fill="#119a3e" stroke="#000" stroke-width="1"/>
<rect x="345" y="159.58" width="5.7" height="5.7" fill="#119a3e" stroke="#000" stroke-width="1"/>
<rect x="392.23" y="169.41" width="5.7" height="5.7" fill="#119a3e" stroke="#000" stroke-width="1"/>
<rect x="331.46" y="139.29" width="5.7" height="5.7" fill="#119a3e" stroke="#000" stroke-width="1"/>
<rect x="374.75" y="178.3" width="5.7" height="5.7" fill="#119a3e" stroke="#000" stroke-width="1"/>
<rect x="350.34" y="173.78" width="5.7" height="5.7" fill="#119a3e" stroke="#000" stroke-width="1"/>
<rect x="340.69" y="141.11" width="5.7" height="5.7" fill="#119a3e" stroke="#000" stroke-width="1"/>
<rect x="386.29" y="159.32" width="5.7" height="5.7" fill="#119a3e" stroke="#000" stroke-width="1"/>
<rect x="342.54" y="188.05" width="5.7" height="5.7" fill="#119a3e" stroke="#000" stroke-width="1"/>
<rect x="347.79" y="168.17" width="5.7" height="5.7" fill="#119a3e" stroke="#000" stroke-width="1"/>
<rect x="320.52" y="112.88" width="5.7" height="5.7" fill="#119a3e" stroke="#000" stroke-width="1"/>
<rect x="344.99" y="199.41" width="5.7" height="5.7" fill="#ff0a0a" stroke="#000" stroke-width="1"/>
<rect x="387.92" y="197.11" width="5.7" height="5.7" fill="#ff0a0a" stroke="#000" stroke-width="1"/>
<rect x="380.87" y="212.9" width="5.7" height="5.7" fill="#ff0a0a" stroke="#000" stroke-width="1"/>
<rect x="370.34" y="237.46" width="5.7" height="5.7" fill="#ff0a0a" stroke="#000" stroke-width="1"/>
<rect x="385.42" y="227.4" width="5.7" height="5.7" fill="#ff0a0a" stroke="#000" stroke-width="1"/>
<rect x="365.24" y="232.47" width="5.7" height="5.7" fill="#ff0a0a" stroke="#000" stroke-width="1"/>
<rect x="356.94" y="217.72" width="5.7" height="5.7" fill="#ff0a0a" stroke="#000" stroke-width="1"/>
<rect x="376.48" y="222.99" width="5.7" height="5.7" fill="#ff0a0a" stroke="#000" stroke-width="1"/>
<rect x="368.13" y="206.49" width="5.7" height="5.7" fill="#ff0a0a" stroke="#000" stroke-width="1"/>
<rect x="346.26" y="216.6" width="5.7" height="5.7" fill="#ff0a0a" stroke="#000" stroke-width="1"/>
<rect x="364.77" y="212.69" width="5.7" height="5.7" fill="#ff0a0a" stroke="#000" stroke-width="1"/>
<rect x="367.4" y="201.7" width="5.7" height="5.7" fill="#ff0a0a" stroke="#000" stroke-width="1"/>
<rect x="374.27" y="201.35" width="5.7" height="5.7" fill="#ff0a0a" stroke="#000" stroke-width="1"/>
<rect x="386.45" y="222.04" width="5.7" height="5.7" fill="#ff0a0a" stroke="#000" stroke-width="1"/>
<rect x="393.9" y="202.09" width="5.7" height="5.7" fill="#ff0a0a" stroke="#000" stroke-width="1"/>
<rect x="345.65" y="220.44" width="5.7" height="5.7" fill="#ff0a0a" stroke="#000" stroke-width="1"/>
<rect x="397.63" y="196.96" width="5.7" height="5.7" fill="#ff0a0a" stroke="#000" stroke-width="1"/>
<rect x="389.15" y="207.79" width="5.7" height="5.7" fill="#ff0a0a" stroke="#000" stroke-width="1"/>
<rect x="379.2" y="235.78" width="5.7" height="5.7" fill="#ff0a0a" stroke="#000" stroke-width="1"/>
<rect x="343.58" y="203.42" width="5.7" height="5.7" fill="#ff0a0a" stroke="#000" stroke-width="1"/>
<path d="M417.8,188.7 V199.7 M416.3,188.7 H419.3 M416.3,199.7 H419.3" stroke="#111" stroke-width="0.9" fill="none"/><path d="M412,194.2 H423.6 M412,192.7 V195.7 M423.6,192.7 V195.7" stroke="#111" stroke-width="0.9" fill="none"/>
<rect x="415" y="191.4" width="5.6" height="5.6" fill="#119a3e" stroke="#000" stroke-width="0.8"/>
<path d="M437.1,194.1 V206.1 M435.6,194.1 H438.6 M435.6,206.1 H438.6" stroke="#111" stroke-width="0.9" fill="none"/><path d="M431.1,200.1 H443.1 M431.1,198.6 V201.6 M443.1,198.6 V201.6" stroke="#111" stroke-width="0.9" fill="none"/>
<rect x="434.3" y="197.3" width="5.6" height="5.6" fill="#119a3e" stroke="#000" stroke-width="0.8"/>
<path d="M397.8,182.6 V190.6 M396.3,182.6 H399.3 M396.3,190.6 H399.3" stroke="#111" stroke-width="0.9" fill="none"/><path d="M393.8,186.6 H401.8 M393.8,185.1 V188.1 M401.8,185.1 V188.1" stroke="#111" stroke-width="0.9" fill="none"/>
<rect x="395" y="183.8" width="5.6" height="5.6" fill="#119a3e" stroke="#000" stroke-width="0.8"/>
<path d="M447.3,211.8 V217.8 M445.8,211.8 H448.8 M445.8,217.8 H448.8" stroke="#111" stroke-width="0.9" fill="none"/><path d="M442.8,214.8 H451.8 M442.8,213.3 V216.3 M451.8,213.3 V216.3" stroke="#111" stroke-width="0.9" fill="none"/>
<rect x="444.5" y="212" width="5.6" height="5.6" fill="#119a3e" stroke="#000" stroke-width="0.8"/>
<path d="M403.8,205.7 V213.7 M402.3,205.7 H405.3 M402.3,213.7 H405.3" stroke="#111" stroke-width="0.9" fill="none"/><path d="M399.8,209.7 H407.8 M399.8,208.2 V211.2 M407.8,208.2 V211.2" stroke="#111" stroke-width="0.9" fill="none"/>
<rect x="401" y="206.9" width="5.6" height="5.6" fill="#119a3e" stroke="#000" stroke-width="0.8"/>
<path d="M293,93.3 V105.3 M291.5,93.3 H294.5 M291.5,105.3 H294.5" stroke="#111" stroke-width="0.9" fill="none"/><path d="M290,99.3 H296 M290,97.8 V100.8 M296,97.8 V100.8" stroke="#111" stroke-width="0.9" fill="none"/>
<rect x="290.2" y="96.5" width="5.6" height="5.6" fill="#119a3e" stroke="#000" stroke-width="0.8"/>
<path d="M299.5,88.1 V98.1 M298,88.1 H301 M298,98.1 H301" stroke="#111" stroke-width="0.9" fill="none"/><path d="M296.5,93.1 H302.5 M296.5,91.6 V94.6 M302.5,91.6 V94.6" stroke="#111" stroke-width="0.9" fill="none"/>
<rect x="296.7" y="90.3" width="5.6" height="5.6" fill="#119a3e" stroke="#000" stroke-width="0.8"/>
<path d="M319.5,152 V182 M318,152 H321 M318,182 H321" stroke="#111" stroke-width="0.9" fill="none"/><path d="M316,166.6 H323 M316,165.1 V168.1 M323,165.1 V168.1" stroke="#111" stroke-width="0.9" fill="none"/>
<rect x="316.7" y="163.8" width="5.6" height="5.6" fill="#119a3e" stroke="#000" stroke-width="0.8"/>
<path d="M325.5,176 V206 M324,176 H327 M324,206 H327" stroke="#111" stroke-width="0.9" fill="none"/><path d="M321,191.4 H330 M321,189.9 V192.9 M330,189.9 V192.9" stroke="#111" stroke-width="0.9" fill="none"/>
<rect x="322.7" y="188.6" width="5.6" height="5.6" fill="#119a3e" stroke="#000" stroke-width="0.8"/>
<path d="M323.4,148 V172 M321.9,148 H324.9 M321.9,172 H324.9" stroke="#111" stroke-width="0.9" fill="none"/><path d="M320,159.6 H327 M320,158.1 V161.1 M327,158.1 V161.1" stroke="#111" stroke-width="0.9" fill="none"/>
<rect x="320.6" y="156.8" width="5.6" height="5.6" fill="#119a3e" stroke="#000" stroke-width="0.8"/>
<path d="M317,160 V196 M315.5,160 H318.5 M315.5,196 H318.5" stroke="#111" stroke-width="0.9" fill="none"/><path d="M314,175 H320 M314,173.5 V176.5 M320,173.5 V176.5" stroke="#111" stroke-width="0.9" fill="none"/>
<rect x="314.2" y="172.2" width="5.6" height="5.6" fill="#119a3e" stroke="#000" stroke-width="0.8"/>
<path d="M331.8,162 V202 M330.3,162 H333.3 M330.3,202 H333.3" stroke="#111" stroke-width="0.9" fill="none"/><path d="M329,178 H335 M329,176.5 V179.5 M335,176.5 V179.5" stroke="#111" stroke-width="0.9" fill="none"/>
<rect x="329" y="175.2" width="5.6" height="5.6" fill="#119a3e" stroke="#000" stroke-width="0.8"/>
<path d="M310.2,148 V181.8 M308.7,148 H311.7 M308.7,181.8 H311.7" stroke="#111" stroke-width="0.9" fill="none"/><path d="M303,159.6 H316 M303,158.1 V161.1 M316,158.1 V161.1" stroke="#111" stroke-width="0.9" fill="none"/>
<rect x="307.3" y="156.7" width="5.8" height="5.8" fill="#ff0a0a" stroke="#000" stroke-width="0.8"/>
<path d="M328.7,156.4 V192.5 M327.2,156.4 H330.2 M327.2,192.5 H330.2" stroke="#111" stroke-width="0.9" fill="none"/><path d="M324,172.3 H333 M324,170.8 V173.8 M333,170.8 V173.8" stroke="#111" stroke-width="0.9" fill="none"/>
<rect x="325.8" y="169.4" width="5.8" height="5.8" fill="#ff0a0a" stroke="#000" stroke-width="0.8"/>
<path d="M320.6,156 V210.5 M319.1,156 H322.1 M319.1,210.5 H322.1" stroke="#111" stroke-width="0.9" fill="none"/><path d="M316,187.8 H325 M316,186.3 V189.3 M325,186.3 V189.3" stroke="#111" stroke-width="0.9" fill="none"/>
<rect x="317.7" y="184.9" width="5.8" height="5.8" fill="#ff0a0a" stroke="#000" stroke-width="0.8"/>
<path d="M312.3,203 V212 M310.8,203 H313.8 M310.8,212 H313.8" stroke="#111" stroke-width="0.9" fill="none"/><path d="M309,207.3 H316 M309,205.8 V208.8 M316,205.8 V208.8" stroke="#111" stroke-width="0.9" fill="none"/>
<rect x="309.4" y="204.4" width="5.8" height="5.8" fill="#ff0a0a" stroke="#000" stroke-width="0.8"/>
<path d="M366,250 V256 M364.5,250 H367.5 M364.5,256 H367.5" stroke="#111" stroke-width="0.9" fill="none"/><path d="M361,253 H371 M361,251.5 V254.5 M371,251.5 V254.5" stroke="#111" stroke-width="0.9" fill="none"/>
<rect x="363.1" y="250.1" width="5.8" height="5.8" fill="#ff0a0a" stroke="#000" stroke-width="0.8"/>
<path d="M382,250 V256 M380.5,250 H383.5 M380.5,256 H383.5" stroke="#111" stroke-width="0.9" fill="none"/><path d="M377,253 H392 M377,251.5 V254.5 M392,251.5 V254.5" stroke="#111" stroke-width="0.9" fill="none"/>
<rect x="379.1" y="250.1" width="5.8" height="5.8" fill="#ff0a0a" stroke="#000" stroke-width="0.8"/>
<path d="M364.8,238 V248 M363.3,238 H366.3 M363.3,248 H366.3" stroke="#111" stroke-width="0.9" fill="none"/><path d="M357.4,243.1 H372 M357.4,241.6 V244.6 M372,241.6 V244.6" stroke="#111" stroke-width="0.9" fill="none"/>
<rect x="361.9" y="240.2" width="5.8" height="5.8" fill="#ff0a0a" stroke="#000" stroke-width="0.8"/>
<path d="M379.3,238 V249 M377.8,238 H380.8 M377.8,249 H380.8" stroke="#111" stroke-width="0.9" fill="none"/><path d="M372,243.4 H392.6 M372,241.9 V244.9 M392.6,241.9 V244.9" stroke="#111" stroke-width="0.9" fill="none"/>
<rect x="376.4" y="240.5" width="5.8" height="5.8" fill="#ff0a0a" stroke="#000" stroke-width="0.8"/>
<path d="M391.3,160.5 V183 M389.8,160.5 H392.8 M389.8,183 H392.8" stroke="#111" stroke-width="0.9" fill="none"/><path d="M385,173.9 H401 M385,172.4 V175.4 M401,172.4 V175.4" stroke="#111" stroke-width="0.9" fill="none"/>
<path d="M391.3,171.09 L393.9,175.77 L388.7,175.77 Z" fill="#1ba3e2" stroke="#000" stroke-width="0.7"/>
<line x1="276.0" y1="60.3" x2="381.35" y2="255.62" stroke="#ff1010" stroke-width="2.1" stroke-dasharray="3.4,2.6"/>
<line x1="276.0" y1="60.3" x2="427.07" y2="259.19" stroke="#ff1010" stroke-width="2.1" stroke-dasharray="3.4,2.6"/>
<line x1="276.0" y1="57.5" x2="507.45" y2="261.58" stroke="#ff1010" stroke-width="2.1" stroke-dasharray="3.4,2.6"/>
<line x1="276.0" y1="60.3" x2="682" y2="175.02" stroke="#ff1010" stroke-width="2.1" stroke-dasharray="3.4,2.9"/>
<path d="M465,250 H478 M465,248.4 V251.6 M478,248.4 V251.6" stroke="#111" stroke-width="0.9" fill="none"/>
<path d="M441,245.7 H471 M441,244.1 V247.3 M471,244.1 V247.3" stroke="#111" stroke-width="0.9" fill="none"/>
<path d="M478,252.4 H497 M478,250.8 V254 M497,250.8 V254" stroke="#111" stroke-width="0.9" fill="none"/>
<path d="M485,254.4 H503 M485,252.8 V256 M503,252.8 V256" stroke="#111" stroke-width="0.9" fill="none"/>
<path d="M500,263.4 H517 M500,261.8 V265 M517,261.8 V265" stroke="#111" stroke-width="0.9" fill="none"/>
<path d="M532,263.4 H556 M532,261.8 V265 M556,261.8 V265" stroke="#111" stroke-width="0.9" fill="none"/>
<circle cx="419.6" cy="258.4" r="2.8" fill="#f7e414" stroke="#000" stroke-width="0.8"/>
<circle cx="425" cy="258" r="2.8" fill="#f7e414" stroke="#000" stroke-width="0.8"/>
<circle cx="433" cy="257.6" r="2.8" fill="#f7e414" stroke="#000" stroke-width="0.8"/>
<circle cx="437" cy="258.4" r="2.8" fill="#f7e414" stroke="#000" stroke-width="0.8"/>
<circle cx="442" cy="256.4" r="2.8" fill="#f7e414" stroke="#000" stroke-width="0.8"/>
<circle cx="445" cy="259" r="2.8" fill="#f7e414" stroke="#000" stroke-width="0.8"/>
<circle cx="450" cy="257" r="2.8" fill="#f7e414" stroke="#000" stroke-width="0.8"/>
<circle cx="458" cy="254.4" r="2.8" fill="#f7e414" stroke="#000" stroke-width="0.8"/>
<circle cx="462" cy="258.4" r="2.8" fill="#f7e414" stroke="#000" stroke-width="0.8"/>
<circle cx="477" cy="259.4" r="2.8" fill="#f7e414" stroke="#000" stroke-width="0.8"/>
<circle cx="471" cy="250" r="2.8" fill="#f7e414" stroke="#000" stroke-width="0.8"/>
<circle cx="455.5" cy="245.7" r="2.8" fill="#f7e414" stroke="#000" stroke-width="0.8"/>
<circle cx="487" cy="252.4" r="2.8" fill="#f7e414" stroke="#000" stroke-width="0.8"/>
<circle cx="493.6" cy="254.4" r="2.8" fill="#f7e414" stroke="#000" stroke-width="0.8"/>
<circle cx="508.6" cy="263.4" r="2.8" fill="#f7e414" stroke="#000" stroke-width="0.8"/>
<circle cx="544" cy="263.4" r="2.8" fill="#f7e414" stroke="#000" stroke-width="0.8"/>
</g>
<text transform="translate(339.2,177.2) rotate(55)" font-size="9.4" font-weight="bold" fill="#fff" stroke="#1a1a1a" stroke-width="0.7" paint-order="stroke" stroke-linejoin="round">1390</text>
<text transform="translate(409.3,233.6) rotate(52)" font-size="9.3" fill="#444">1000</text>
<text transform="translate(478.8,230.2) rotate(40)" font-size="9.3" fill="#444">670</text>
<text x="640.5" y="160.6" font-size="9.3" text-anchor="start" font-weight="normal" fill="#444" >210</text>
<line x1="545.8" y1="261" x2="552.6" y2="252.2" stroke="#333" stroke-width="0.8" />
<text x="552.3" y="251.3" font-size="9.3" text-anchor="start" font-weight="normal" fill="#444" >580</text>
<text x="275.9" y="153.2" font-size="9.35" text-anchor="start" font-weight="normal" fill="#444" >4400</text>
<text x="281.8" y="206" font-size="9.35" text-anchor="start" font-weight="normal" fill="#444" >3600</text>
<text x="289.6" y="217" font-size="9.35" text-anchor="start" font-weight="normal" fill="#444" >3440</text>
<text x="294.6" y="235" font-size="9.35" text-anchor="start" font-weight="normal" fill="#444" >2800</text>
<text x="334.4" y="261.2" font-size="9.35" text-anchor="start" font-weight="normal" fill="#444" >2000</text>
<text x="388.6" y="272" font-size="9.35" text-anchor="start" font-weight="normal" fill="#444" >1200</text>
<text x="663" y="272.6" font-size="9.35" text-anchor="start" font-weight="normal" fill="#444" >400</text>
<line x1="275.9" y1="5.5" x2="275.9" y2="275.5" stroke="#6a6a6a" stroke-width="1.6"/>
<line x1="272" y1="5.5" x2="681.5" y2="5.5" stroke="#444" stroke-width="1.2"/>
<line x1="681.5" y1="5.5" x2="681.5" y2="275.5" stroke="#444" stroke-width="1.2"/>
<line x1="275.7" y1="275.5" x2="682.1" y2="275.5" stroke="#333" stroke-width="1.2"/>
<line x1="272" y1="275.5" x2="275.7" y2="275.5" stroke="#555" stroke-width="1" />
<line x1="273.5" y1="253" x2="275.7" y2="253" stroke="#555" stroke-width="1" />
<line x1="272" y1="230.5" x2="275.7" y2="230.5" stroke="#555" stroke-width="1" />
<line x1="273.5" y1="208" x2="275.7" y2="208" stroke="#555" stroke-width="1" />
<line x1="272" y1="185.5" x2="275.7" y2="185.5" stroke="#555" stroke-width="1" />
<line x1="273.5" y1="163" x2="275.7" y2="163" stroke="#555" stroke-width="1" />
<line x1="272" y1="140.5" x2="275.7" y2="140.5" stroke="#555" stroke-width="1" />
<line x1="273.5" y1="118" x2="275.7" y2="118" stroke="#555" stroke-width="1" />
<line x1="272" y1="95.5" x2="275.7" y2="95.5" stroke="#555" stroke-width="1" />
<line x1="273.5" y1="73" x2="275.7" y2="73" stroke="#555" stroke-width="1" />
<line x1="272" y1="50.5" x2="275.7" y2="50.5" stroke="#555" stroke-width="1" />
<line x1="273.5" y1="28" x2="275.7" y2="28" stroke="#555" stroke-width="1" />
<line x1="272" y1="5.5" x2="275.7" y2="5.5" stroke="#555" stroke-width="1" />
<text x="268.4" y="278.9" font-size="9.8" text-anchor="end" font-weight="normal" fill="#444" >0.0</text>
<text x="268.4" y="233.7" font-size="9.8" text-anchor="end" font-weight="normal" fill="#444" >0.2</text>
<text x="268.4" y="188.6" font-size="9.8" text-anchor="end" font-weight="normal" fill="#444" >0.4</text>
<text x="268.4" y="143.8" font-size="9.8" text-anchor="end" font-weight="normal" fill="#444" >0.6</text>
<text x="268.4" y="99.1" font-size="9.8" text-anchor="end" font-weight="normal" fill="#444" >0.8</text>
<text x="268.4" y="46.5" font-size="9.8" text-anchor="end" font-weight="normal" fill="#444" >1.0</text>
<text x="268.4" y="9.3" font-size="9.8" text-anchor="end" font-weight="normal" fill="#444" >1.2</text>
<line x1="276" y1="275.5" x2="276" y2="278.5" stroke="#333" stroke-width="1" />
<line x1="326.7" y1="275.5" x2="326.7" y2="278.5" stroke="#333" stroke-width="1" />
<line x1="377.4" y1="275.5" x2="377.4" y2="278.5" stroke="#333" stroke-width="1" />
<line x1="428.1" y1="275.5" x2="428.1" y2="278.5" stroke="#333" stroke-width="1" />
<line x1="478.8" y1="275.5" x2="478.8" y2="278.5" stroke="#333" stroke-width="1" />
<line x1="529.5" y1="275.5" x2="529.5" y2="278.5" stroke="#333" stroke-width="1" />
<line x1="580.2" y1="275.5" x2="580.2" y2="278.5" stroke="#333" stroke-width="1" />
<line x1="630.9" y1="275.5" x2="630.9" y2="278.5" stroke="#333" stroke-width="1" />
<line x1="681.6" y1="275.5" x2="681.6" y2="278.5" stroke="#333" stroke-width="1" />
<text x="275.4" y="289.9" font-size="9.8" text-anchor="middle" font-weight="normal" fill="#444" >0.0</text>
<text x="375.9" y="289.9" font-size="9.8" text-anchor="middle" font-weight="normal" fill="#444" >4</text>
<text x="476.9" y="289.9" font-size="9.8" text-anchor="middle" font-weight="normal" fill="#444" >8</text>
<text x="578.7" y="289.9" font-size="9.8" text-anchor="middle" font-weight="normal" fill="#444" >12</text>
<text x="679.8" y="289.9" font-size="9.8" text-anchor="middle" font-weight="normal" fill="#444" >16</text>
<text x="456.4" y="304.9" font-size="11" font-weight="bold" fill="#333"><tspan font-size="6.8" font-weight="normal" dy="-6.4">238</tspan><tspan dy="6.4">U/</tspan><tspan font-size="6.8" font-weight="normal" dy="-6.4">206</tspan><tspan dy="6.4">Pb</tspan></text>
<text transform="translate(278.8,270.9) scale(1.1,1)" font-size="31" fill="#000">c</text>
<line x1="275.9" y1="33" x2="275.9" y2="86" stroke="#111" stroke-width="0.9" />
<line x1="272.6" y1="12.4" x2="276.2" y2="12.4" stroke="#222" stroke-width="0.9" />
<line x1="272.6" y1="14.2" x2="276.2" y2="14.2" stroke="#222" stroke-width="0.9" />
<line x1="272.6" y1="26.8" x2="276.2" y2="26.8" stroke="#222" stroke-width="0.9" />
<line x1="272.6" y1="28.6" x2="276.2" y2="28.6" stroke="#222" stroke-width="0.9" />
<line x1="272.6" y1="80.5" x2="276.2" y2="80.5" stroke="#222" stroke-width="0.9" />
<line x1="272.6" y1="83" x2="276.2" y2="83" stroke="#222" stroke-width="0.9" />
<line x1="272.6" y1="85.8" x2="276.2" y2="85.8" stroke="#222" stroke-width="0.9" />
<rect x="275" y="57.8" width="4.4" height="4.4" fill="#ff0a0a" stroke="#000" stroke-width="0.8"/>
<path d="M275.9,33.26 L278.9,38.66 L272.9,38.66 Z" fill="#1ba3e2" stroke="#000" stroke-width="0.7"/>
<path d="M275.9,40.96 L278.9,46.36 L272.9,46.36 Z" fill="#1ba3e2" stroke="#000" stroke-width="0.7"/>
<path d="M275.9,45.36 L278.9,50.76 L272.9,50.76 Z" fill="#1ba3e2" stroke="#000" stroke-width="0.7"/>
<path d="M275.9,49.06 L278.9,54.46 L272.9,54.46 Z" fill="#1ba3e2" stroke="#000" stroke-width="0.7"/>
<path d="M275.9,52.36 L278.9,57.76 L272.9,57.76 Z" fill="#1ba3e2" stroke="#000" stroke-width="0.7"/>
<path d="M275.9,55.56 L278.9,60.96 L272.9,60.96 Z" fill="#1ba3e2" stroke="#000" stroke-width="0.7"/>
<path d="M275.9,58.66 L278.9,64.06 L272.9,64.06 Z" fill="#1ba3e2" stroke="#000" stroke-width="0.7"/>
<path d="M275.9,61.56 L278.9,66.96 L272.9,66.96 Z" fill="#1ba3e2" stroke="#000" stroke-width="0.7"/>
<path d="M275.9,64.46 L278.9,69.86 L272.9,69.86 Z" fill="#1ba3e2" stroke="#000" stroke-width="0.7"/>
<path d="M275.9,67.36 L278.9,72.76 L272.9,72.76 Z" fill="#1ba3e2" stroke="#000" stroke-width="0.7"/>
<path d="M275.9,70.26 L278.9,75.66 L272.9,75.66 Z" fill="#1ba3e2" stroke="#000" stroke-width="0.7"/>
<path d="M275.9,73.36 L278.9,78.76 L272.9,78.76 Z" fill="#1ba3e2" stroke="#000" stroke-width="0.7"/>
<text x="567.1" y="21.8" font-size="10.2" text-anchor="start" font-weight="bold" fill="#111" >SW-1</text>
<path d="M556.5,30.87 L559.4,36.09 L553.6,36.09 Z" fill="#1ba3e2" stroke="#000" stroke-width="0.7"/>
<text x="565" y="36.4" font-size="9.35" text-anchor="start" font-weight="normal" fill="#222" >Apatite</text>
<rect x="553.4" y="43.2" width="6" height="6" fill="#119a3e" stroke="#000" stroke-width="0.7"/>
<text x="565" y="49.6" font-size="9.35" text-anchor="start" font-weight="normal" fill="#222" >Titanite</text>
<rect x="553.4" y="57" width="6" height="6" fill="#ff0a0a" stroke="#000" stroke-width="0.7"/>
<text x="565" y="65.1" font-size="9.35" text-anchor="start" font-weight="normal" fill="#222" >Zircon (inclusions in titanite)</text>
<circle cx="556.5" cy="75.6" r="3.0" fill="#f7e414" stroke="#000" stroke-width="0.8"/>
<text x="565" y="78.8" font-size="9.35" text-anchor="start" font-weight="normal" fill="#222" >Zircon (matrix hosted)</text>
</svg>
</body></html>
